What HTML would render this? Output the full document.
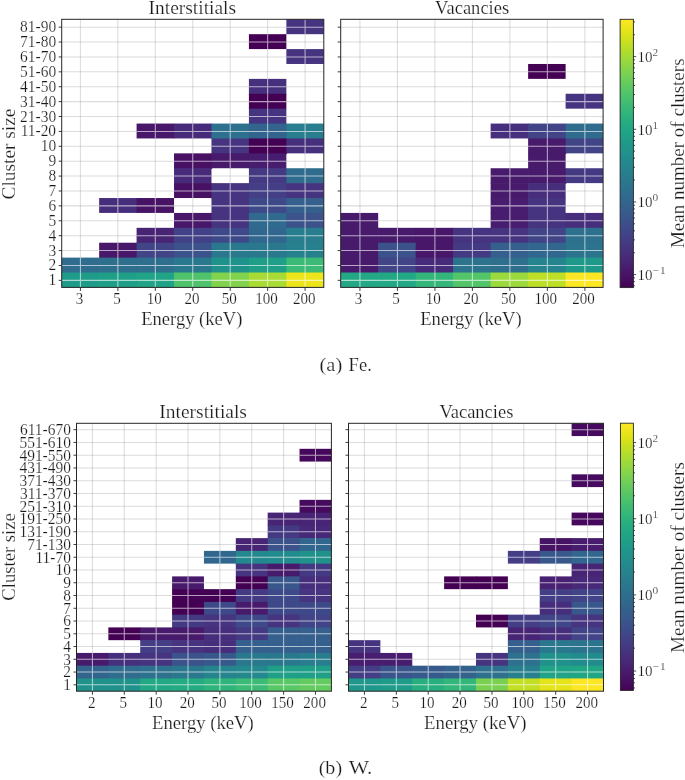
<!DOCTYPE html>
<html><head><meta charset="utf-8"><style>
html,body{margin:0;padding:0;background:#fff;overflow:hidden;}
svg{display:block;will-change:transform;}
</style></head><body>
<svg width="685" height="780" viewBox="0 0 685 780">
<rect width="685" height="780" fill="#fff"/>
<line x1="80.42" y1="19.3" x2="80.42" y2="287.4" stroke="rgba(150,150,150,0.33)" stroke-width="1.05"/>
<line x1="117.86" y1="19.3" x2="117.86" y2="287.4" stroke="rgba(150,150,150,0.33)" stroke-width="1.05"/>
<line x1="155.31" y1="19.3" x2="155.31" y2="287.4" stroke="rgba(150,150,150,0.33)" stroke-width="1.05"/>
<line x1="192.75" y1="19.3" x2="192.75" y2="287.4" stroke="rgba(150,150,150,0.33)" stroke-width="1.05"/>
<line x1="230.19" y1="19.3" x2="230.19" y2="287.4" stroke="rgba(150,150,150,0.33)" stroke-width="1.05"/>
<line x1="267.64" y1="19.3" x2="267.64" y2="287.4" stroke="rgba(150,150,150,0.33)" stroke-width="1.05"/>
<line x1="305.08" y1="19.3" x2="305.08" y2="287.4" stroke="rgba(150,150,150,0.33)" stroke-width="1.05"/>
<line x1="61.7" y1="27.15" x2="323.8" y2="27.15" stroke="rgba(150,150,150,0.33)" stroke-width="1.05"/>
<line x1="61.7" y1="42.04" x2="323.8" y2="42.04" stroke="rgba(150,150,150,0.33)" stroke-width="1.05"/>
<line x1="61.7" y1="56.94" x2="323.8" y2="56.94" stroke="rgba(150,150,150,0.33)" stroke-width="1.05"/>
<line x1="61.7" y1="71.83" x2="323.8" y2="71.83" stroke="rgba(150,150,150,0.33)" stroke-width="1.05"/>
<line x1="61.7" y1="86.72" x2="323.8" y2="86.72" stroke="rgba(150,150,150,0.33)" stroke-width="1.05"/>
<line x1="61.7" y1="101.62" x2="323.8" y2="101.62" stroke="rgba(150,150,150,0.33)" stroke-width="1.05"/>
<line x1="61.7" y1="116.51" x2="323.8" y2="116.51" stroke="rgba(150,150,150,0.33)" stroke-width="1.05"/>
<line x1="61.7" y1="131.41" x2="323.8" y2="131.41" stroke="rgba(150,150,150,0.33)" stroke-width="1.05"/>
<line x1="61.7" y1="146.30" x2="323.8" y2="146.30" stroke="rgba(150,150,150,0.33)" stroke-width="1.05"/>
<line x1="61.7" y1="161.20" x2="323.8" y2="161.20" stroke="rgba(150,150,150,0.33)" stroke-width="1.05"/>
<line x1="61.7" y1="176.09" x2="323.8" y2="176.09" stroke="rgba(150,150,150,0.33)" stroke-width="1.05"/>
<line x1="61.7" y1="190.99" x2="323.8" y2="190.99" stroke="rgba(150,150,150,0.33)" stroke-width="1.05"/>
<line x1="61.7" y1="205.88" x2="323.8" y2="205.88" stroke="rgba(150,150,150,0.33)" stroke-width="1.05"/>
<line x1="61.7" y1="220.77" x2="323.8" y2="220.77" stroke="rgba(150,150,150,0.33)" stroke-width="1.05"/>
<line x1="61.7" y1="235.67" x2="323.8" y2="235.67" stroke="rgba(150,150,150,0.33)" stroke-width="1.05"/>
<line x1="61.7" y1="250.56" x2="323.8" y2="250.56" stroke="rgba(150,150,150,0.33)" stroke-width="1.05"/>
<line x1="61.7" y1="265.46" x2="323.8" y2="265.46" stroke="rgba(150,150,150,0.33)" stroke-width="1.05"/>
<line x1="61.7" y1="280.35" x2="323.8" y2="280.35" stroke="rgba(150,150,150,0.33)" stroke-width="1.05"/>
<rect x="286.36" y="19.30" width="37.44" height="14.89" fill="#463480"/>
<rect x="248.91" y="34.19" width="37.44" height="14.89" fill="#440154"/>
<rect x="286.36" y="49.09" width="37.44" height="14.89" fill="#463480"/>
<rect x="248.91" y="78.88" width="37.44" height="15.59" fill="#46307e"/>
<rect x="248.91" y="93.77" width="37.44" height="15.59" fill="#440154"/>
<rect x="248.91" y="108.67" width="37.44" height="15.59" fill="#463480"/>
<rect x="136.59" y="123.56" width="38.14" height="14.89" fill="#481769"/>
<rect x="174.03" y="123.56" width="38.14" height="14.89" fill="#472a7a"/>
<rect x="211.47" y="123.56" width="38.14" height="15.59" fill="#2d718e"/>
<rect x="248.91" y="123.56" width="38.14" height="15.59" fill="#32648e"/>
<rect x="286.36" y="123.56" width="37.44" height="15.59" fill="#287d8e"/>
<rect x="211.47" y="138.46" width="38.14" height="15.59" fill="#463480"/>
<rect x="248.91" y="138.46" width="38.14" height="15.59" fill="#440154"/>
<rect x="286.36" y="138.46" width="37.44" height="14.89" fill="#46307e"/>
<rect x="174.03" y="153.35" width="38.14" height="15.59" fill="#471063"/>
<rect x="211.47" y="153.35" width="38.14" height="14.89" fill="#481a6c"/>
<rect x="248.91" y="153.35" width="37.44" height="15.59" fill="#481d6f"/>
<rect x="174.03" y="168.24" width="37.44" height="15.59" fill="#472a7a"/>
<rect x="248.91" y="168.24" width="38.14" height="15.59" fill="#443a83"/>
<rect x="286.36" y="168.24" width="37.44" height="15.59" fill="#2f6c8e"/>
<rect x="174.03" y="183.14" width="38.14" height="14.89" fill="#471063"/>
<rect x="211.47" y="183.14" width="38.14" height="15.59" fill="#463480"/>
<rect x="248.91" y="183.14" width="38.14" height="15.59" fill="#433e85"/>
<rect x="286.36" y="183.14" width="37.44" height="15.59" fill="#463480"/>
<rect x="99.14" y="198.03" width="38.14" height="14.89" fill="#472e7c"/>
<rect x="136.59" y="198.03" width="37.44" height="14.89" fill="#471365"/>
<rect x="211.47" y="198.03" width="38.14" height="15.59" fill="#463480"/>
<rect x="248.91" y="198.03" width="38.14" height="15.59" fill="#3e4989"/>
<rect x="286.36" y="198.03" width="37.44" height="15.59" fill="#355f8d"/>
<rect x="174.03" y="212.93" width="38.14" height="15.59" fill="#481769"/>
<rect x="211.47" y="212.93" width="38.14" height="15.59" fill="#463480"/>
<rect x="248.91" y="212.93" width="38.14" height="15.59" fill="#306a8e"/>
<rect x="286.36" y="212.93" width="37.44" height="15.59" fill="#3b528b"/>
<rect x="136.59" y="227.82" width="38.14" height="15.59" fill="#482475"/>
<rect x="174.03" y="227.82" width="38.14" height="15.59" fill="#424086"/>
<rect x="211.47" y="227.82" width="38.14" height="15.59" fill="#3e4989"/>
<rect x="248.91" y="227.82" width="38.14" height="15.59" fill="#31678e"/>
<rect x="286.36" y="227.82" width="37.44" height="15.59" fill="#287d8e"/>
<rect x="99.14" y="242.72" width="38.14" height="15.59" fill="#481769"/>
<rect x="136.59" y="242.72" width="38.14" height="15.59" fill="#414487"/>
<rect x="174.03" y="242.72" width="38.14" height="15.59" fill="#3b528b"/>
<rect x="211.47" y="242.72" width="38.14" height="15.59" fill="#2a788e"/>
<rect x="248.91" y="242.72" width="38.14" height="15.59" fill="#2a788e"/>
<rect x="286.36" y="242.72" width="37.44" height="15.59" fill="#27808e"/>
<rect x="61.70" y="257.61" width="38.14" height="15.59" fill="#2f6c8e"/>
<rect x="99.14" y="257.61" width="38.14" height="15.59" fill="#2e6f8e"/>
<rect x="136.59" y="257.61" width="38.14" height="15.59" fill="#2e6f8e"/>
<rect x="174.03" y="257.61" width="38.14" height="15.59" fill="#2a788e"/>
<rect x="211.47" y="257.61" width="38.14" height="15.59" fill="#20928c"/>
<rect x="248.91" y="257.61" width="38.14" height="15.59" fill="#1f9f88"/>
<rect x="286.36" y="257.61" width="37.44" height="15.59" fill="#3bbb75"/>
<rect x="61.70" y="272.51" width="38.14" height="14.89" fill="#1e9c89"/>
<rect x="99.14" y="272.51" width="38.14" height="14.89" fill="#1f9f88"/>
<rect x="136.59" y="272.51" width="38.14" height="14.89" fill="#20a386"/>
<rect x="174.03" y="272.51" width="38.14" height="14.89" fill="#4ec36b"/>
<rect x="211.47" y="272.51" width="38.14" height="14.89" fill="#81d34d"/>
<rect x="248.91" y="272.51" width="38.14" height="14.89" fill="#a8db34"/>
<rect x="286.36" y="272.51" width="37.44" height="14.89" fill="#ece51b"/>
<path d="M305.08 19.30V34.19M286.36 27.15H323.80" stroke="rgba(255,255,255,0.62)" stroke-width="1.05" fill="none"/>
<path d="M267.64 34.19V49.09M248.91 42.04H286.36" stroke="rgba(255,255,255,0.62)" stroke-width="1.05" fill="none"/>
<path d="M305.08 49.09V63.98M286.36 56.94H323.80" stroke="rgba(255,255,255,0.62)" stroke-width="1.05" fill="none"/>
<path d="M267.64 78.88V93.77M248.91 86.72H286.36" stroke="rgba(255,255,255,0.62)" stroke-width="1.05" fill="none"/>
<path d="M267.64 93.77V108.67M248.91 101.62H286.36" stroke="rgba(255,255,255,0.62)" stroke-width="1.05" fill="none"/>
<path d="M267.64 108.67V123.56M248.91 116.51H286.36" stroke="rgba(255,255,255,0.62)" stroke-width="1.05" fill="none"/>
<path d="M155.31 123.56V138.46M136.59 131.41H174.03" stroke="rgba(255,255,255,0.62)" stroke-width="1.05" fill="none"/>
<path d="M192.75 123.56V138.46M174.03 131.41H211.47" stroke="rgba(255,255,255,0.62)" stroke-width="1.05" fill="none"/>
<path d="M230.19 123.56V138.46M211.47 131.41H248.91" stroke="rgba(255,255,255,0.62)" stroke-width="1.05" fill="none"/>
<path d="M267.64 123.56V138.46M248.91 131.41H286.36" stroke="rgba(255,255,255,0.62)" stroke-width="1.05" fill="none"/>
<path d="M305.08 123.56V138.46M286.36 131.41H323.80" stroke="rgba(255,255,255,0.62)" stroke-width="1.05" fill="none"/>
<path d="M230.19 138.46V153.35M211.47 146.30H248.91" stroke="rgba(255,255,255,0.62)" stroke-width="1.05" fill="none"/>
<path d="M267.64 138.46V153.35M248.91 146.30H286.36" stroke="rgba(255,255,255,0.62)" stroke-width="1.05" fill="none"/>
<path d="M305.08 138.46V153.35M286.36 146.30H323.80" stroke="rgba(255,255,255,0.62)" stroke-width="1.05" fill="none"/>
<path d="M192.75 153.35V168.24M174.03 161.20H211.47" stroke="rgba(255,255,255,0.62)" stroke-width="1.05" fill="none"/>
<path d="M230.19 153.35V168.24M211.47 161.20H248.91" stroke="rgba(255,255,255,0.62)" stroke-width="1.05" fill="none"/>
<path d="M267.64 153.35V168.24M248.91 161.20H286.36" stroke="rgba(255,255,255,0.62)" stroke-width="1.05" fill="none"/>
<path d="M192.75 168.24V183.14M174.03 176.09H211.47" stroke="rgba(255,255,255,0.62)" stroke-width="1.05" fill="none"/>
<path d="M267.64 168.24V183.14M248.91 176.09H286.36" stroke="rgba(255,255,255,0.62)" stroke-width="1.05" fill="none"/>
<path d="M305.08 168.24V183.14M286.36 176.09H323.80" stroke="rgba(255,255,255,0.62)" stroke-width="1.05" fill="none"/>
<path d="M192.75 183.14V198.03M174.03 190.99H211.47" stroke="rgba(255,255,255,0.62)" stroke-width="1.05" fill="none"/>
<path d="M230.19 183.14V198.03M211.47 190.99H248.91" stroke="rgba(255,255,255,0.62)" stroke-width="1.05" fill="none"/>
<path d="M267.64 183.14V198.03M248.91 190.99H286.36" stroke="rgba(255,255,255,0.62)" stroke-width="1.05" fill="none"/>
<path d="M305.08 183.14V198.03M286.36 190.99H323.80" stroke="rgba(255,255,255,0.62)" stroke-width="1.05" fill="none"/>
<path d="M117.86 198.03V212.93M99.14 205.88H136.59" stroke="rgba(255,255,255,0.62)" stroke-width="1.05" fill="none"/>
<path d="M155.31 198.03V212.93M136.59 205.88H174.03" stroke="rgba(255,255,255,0.62)" stroke-width="1.05" fill="none"/>
<path d="M230.19 198.03V212.93M211.47 205.88H248.91" stroke="rgba(255,255,255,0.62)" stroke-width="1.05" fill="none"/>
<path d="M267.64 198.03V212.93M248.91 205.88H286.36" stroke="rgba(255,255,255,0.62)" stroke-width="1.05" fill="none"/>
<path d="M305.08 198.03V212.93M286.36 205.88H323.80" stroke="rgba(255,255,255,0.62)" stroke-width="1.05" fill="none"/>
<path d="M192.75 212.93V227.82M174.03 220.77H211.47" stroke="rgba(255,255,255,0.62)" stroke-width="1.05" fill="none"/>
<path d="M230.19 212.93V227.82M211.47 220.77H248.91" stroke="rgba(255,255,255,0.62)" stroke-width="1.05" fill="none"/>
<path d="M267.64 212.93V227.82M248.91 220.77H286.36" stroke="rgba(255,255,255,0.62)" stroke-width="1.05" fill="none"/>
<path d="M305.08 212.93V227.82M286.36 220.77H323.80" stroke="rgba(255,255,255,0.62)" stroke-width="1.05" fill="none"/>
<path d="M155.31 227.82V242.72M136.59 235.67H174.03" stroke="rgba(255,255,255,0.62)" stroke-width="1.05" fill="none"/>
<path d="M192.75 227.82V242.72M174.03 235.67H211.47" stroke="rgba(255,255,255,0.62)" stroke-width="1.05" fill="none"/>
<path d="M230.19 227.82V242.72M211.47 235.67H248.91" stroke="rgba(255,255,255,0.62)" stroke-width="1.05" fill="none"/>
<path d="M267.64 227.82V242.72M248.91 235.67H286.36" stroke="rgba(255,255,255,0.62)" stroke-width="1.05" fill="none"/>
<path d="M305.08 227.82V242.72M286.36 235.67H323.80" stroke="rgba(255,255,255,0.62)" stroke-width="1.05" fill="none"/>
<path d="M117.86 242.72V257.61M99.14 250.56H136.59" stroke="rgba(255,255,255,0.62)" stroke-width="1.05" fill="none"/>
<path d="M155.31 242.72V257.61M136.59 250.56H174.03" stroke="rgba(255,255,255,0.62)" stroke-width="1.05" fill="none"/>
<path d="M192.75 242.72V257.61M174.03 250.56H211.47" stroke="rgba(255,255,255,0.62)" stroke-width="1.05" fill="none"/>
<path d="M230.19 242.72V257.61M211.47 250.56H248.91" stroke="rgba(255,255,255,0.62)" stroke-width="1.05" fill="none"/>
<path d="M267.64 242.72V257.61M248.91 250.56H286.36" stroke="rgba(255,255,255,0.62)" stroke-width="1.05" fill="none"/>
<path d="M305.08 242.72V257.61M286.36 250.56H323.80" stroke="rgba(255,255,255,0.62)" stroke-width="1.05" fill="none"/>
<path d="M80.42 257.61V272.51M61.70 265.46H99.14" stroke="rgba(255,255,255,0.62)" stroke-width="1.05" fill="none"/>
<path d="M117.86 257.61V272.51M99.14 265.46H136.59" stroke="rgba(255,255,255,0.62)" stroke-width="1.05" fill="none"/>
<path d="M155.31 257.61V272.51M136.59 265.46H174.03" stroke="rgba(255,255,255,0.62)" stroke-width="1.05" fill="none"/>
<path d="M192.75 257.61V272.51M174.03 265.46H211.47" stroke="rgba(255,255,255,0.62)" stroke-width="1.05" fill="none"/>
<path d="M230.19 257.61V272.51M211.47 265.46H248.91" stroke="rgba(255,255,255,0.62)" stroke-width="1.05" fill="none"/>
<path d="M267.64 257.61V272.51M248.91 265.46H286.36" stroke="rgba(255,255,255,0.62)" stroke-width="1.05" fill="none"/>
<path d="M305.08 257.61V272.51M286.36 265.46H323.80" stroke="rgba(255,255,255,0.62)" stroke-width="1.05" fill="none"/>
<path d="M80.42 272.51V287.40M61.70 280.35H99.14" stroke="rgba(255,255,255,0.62)" stroke-width="1.05" fill="none"/>
<path d="M117.86 272.51V287.40M99.14 280.35H136.59" stroke="rgba(255,255,255,0.62)" stroke-width="1.05" fill="none"/>
<path d="M155.31 272.51V287.40M136.59 280.35H174.03" stroke="rgba(255,255,255,0.62)" stroke-width="1.05" fill="none"/>
<path d="M192.75 272.51V287.40M174.03 280.35H211.47" stroke="rgba(255,255,255,0.62)" stroke-width="1.05" fill="none"/>
<path d="M230.19 272.51V287.40M211.47 280.35H248.91" stroke="rgba(255,255,255,0.62)" stroke-width="1.05" fill="none"/>
<path d="M267.64 272.51V287.40M248.91 280.35H286.36" stroke="rgba(255,255,255,0.62)" stroke-width="1.05" fill="none"/>
<path d="M305.08 272.51V287.40M286.36 280.35H323.80" stroke="rgba(255,255,255,0.62)" stroke-width="1.05" fill="none"/>
<rect x="61.7" y="19.3" width="262.10" height="268.10" fill="none" stroke="#262626" stroke-width="1"/>
<line x1="58.7" y1="27.15" x2="61.7" y2="27.15" stroke="#262626" stroke-width="0.9"/>
<line x1="58.7" y1="42.04" x2="61.7" y2="42.04" stroke="#262626" stroke-width="0.9"/>
<line x1="58.7" y1="56.94" x2="61.7" y2="56.94" stroke="#262626" stroke-width="0.9"/>
<line x1="58.7" y1="71.83" x2="61.7" y2="71.83" stroke="#262626" stroke-width="0.9"/>
<line x1="58.7" y1="86.72" x2="61.7" y2="86.72" stroke="#262626" stroke-width="0.9"/>
<line x1="58.7" y1="101.62" x2="61.7" y2="101.62" stroke="#262626" stroke-width="0.9"/>
<line x1="58.7" y1="116.51" x2="61.7" y2="116.51" stroke="#262626" stroke-width="0.9"/>
<line x1="58.7" y1="131.41" x2="61.7" y2="131.41" stroke="#262626" stroke-width="0.9"/>
<line x1="58.7" y1="146.30" x2="61.7" y2="146.30" stroke="#262626" stroke-width="0.9"/>
<line x1="58.7" y1="161.20" x2="61.7" y2="161.20" stroke="#262626" stroke-width="0.9"/>
<line x1="58.7" y1="176.09" x2="61.7" y2="176.09" stroke="#262626" stroke-width="0.9"/>
<line x1="58.7" y1="190.99" x2="61.7" y2="190.99" stroke="#262626" stroke-width="0.9"/>
<line x1="58.7" y1="205.88" x2="61.7" y2="205.88" stroke="#262626" stroke-width="0.9"/>
<line x1="58.7" y1="220.77" x2="61.7" y2="220.77" stroke="#262626" stroke-width="0.9"/>
<line x1="58.7" y1="235.67" x2="61.7" y2="235.67" stroke="#262626" stroke-width="0.9"/>
<line x1="58.7" y1="250.56" x2="61.7" y2="250.56" stroke="#262626" stroke-width="0.9"/>
<line x1="58.7" y1="265.46" x2="61.7" y2="265.46" stroke="#262626" stroke-width="0.9"/>
<line x1="58.7" y1="280.35" x2="61.7" y2="280.35" stroke="#262626" stroke-width="0.9"/>
<line x1="80.42" y1="287.4" x2="80.42" y2="290.9" stroke="#262626" stroke-width="0.9"/>
<line x1="117.86" y1="287.4" x2="117.86" y2="290.9" stroke="#262626" stroke-width="0.9"/>
<line x1="155.31" y1="287.4" x2="155.31" y2="290.9" stroke="#262626" stroke-width="0.9"/>
<line x1="192.75" y1="287.4" x2="192.75" y2="290.9" stroke="#262626" stroke-width="0.9"/>
<line x1="230.19" y1="287.4" x2="230.19" y2="290.9" stroke="#262626" stroke-width="0.9"/>
<line x1="267.64" y1="287.4" x2="267.64" y2="290.9" stroke="#262626" stroke-width="0.9"/>
<line x1="305.08" y1="287.4" x2="305.08" y2="290.9" stroke="#262626" stroke-width="0.9"/>
<text x="56.10" y="32.15" text-anchor="end" font-family="Liberation Serif" font-size="16" fill="#1a1a1a" stroke="#fff" stroke-width="0.2" textLength="36.02" lengthAdjust="spacingAndGlyphs">81-90</text>
<text x="56.10" y="47.04" text-anchor="end" font-family="Liberation Serif" font-size="16" fill="#1a1a1a" stroke="#fff" stroke-width="0.2" textLength="36.02" lengthAdjust="spacingAndGlyphs">71-80</text>
<text x="56.10" y="61.94" text-anchor="end" font-family="Liberation Serif" font-size="16" fill="#1a1a1a" stroke="#fff" stroke-width="0.2" textLength="36.02" lengthAdjust="spacingAndGlyphs">61-70</text>
<text x="56.10" y="76.83" text-anchor="end" font-family="Liberation Serif" font-size="16" fill="#1a1a1a" stroke="#fff" stroke-width="0.2" textLength="36.02" lengthAdjust="spacingAndGlyphs">51-60</text>
<text x="56.10" y="91.72" text-anchor="end" font-family="Liberation Serif" font-size="16" fill="#1a1a1a" stroke="#fff" stroke-width="0.2" textLength="36.02" lengthAdjust="spacingAndGlyphs">41-50</text>
<text x="56.10" y="106.62" text-anchor="end" font-family="Liberation Serif" font-size="16" fill="#1a1a1a" stroke="#fff" stroke-width="0.2" textLength="36.02" lengthAdjust="spacingAndGlyphs">31-40</text>
<text x="56.10" y="121.51" text-anchor="end" font-family="Liberation Serif" font-size="16" fill="#1a1a1a" stroke="#fff" stroke-width="0.2" textLength="36.02" lengthAdjust="spacingAndGlyphs">21-30</text>
<text x="56.10" y="136.41" text-anchor="end" font-family="Liberation Serif" font-size="16" fill="#1a1a1a" stroke="#fff" stroke-width="0.2" textLength="35.45" lengthAdjust="spacingAndGlyphs">11-20</text>
<text x="56.10" y="151.30" text-anchor="end" font-family="Liberation Serif" font-size="16" fill="#1a1a1a" stroke="#fff" stroke-width="0.2" textLength="15.44" lengthAdjust="spacingAndGlyphs">10</text>
<text x="56.10" y="166.20" text-anchor="end" font-family="Liberation Serif" font-size="16" fill="#1a1a1a" stroke="#fff" stroke-width="0.2" textLength="7.72" lengthAdjust="spacingAndGlyphs">9</text>
<text x="56.10" y="181.09" text-anchor="end" font-family="Liberation Serif" font-size="16" fill="#1a1a1a" stroke="#fff" stroke-width="0.2" textLength="7.72" lengthAdjust="spacingAndGlyphs">8</text>
<text x="56.10" y="195.99" text-anchor="end" font-family="Liberation Serif" font-size="16" fill="#1a1a1a" stroke="#fff" stroke-width="0.2" textLength="7.72" lengthAdjust="spacingAndGlyphs">7</text>
<text x="56.10" y="210.88" text-anchor="end" font-family="Liberation Serif" font-size="16" fill="#1a1a1a" stroke="#fff" stroke-width="0.2" textLength="7.72" lengthAdjust="spacingAndGlyphs">6</text>
<text x="56.10" y="225.77" text-anchor="end" font-family="Liberation Serif" font-size="16" fill="#1a1a1a" stroke="#fff" stroke-width="0.2" textLength="7.72" lengthAdjust="spacingAndGlyphs">5</text>
<text x="56.10" y="240.67" text-anchor="end" font-family="Liberation Serif" font-size="16" fill="#1a1a1a" stroke="#fff" stroke-width="0.2" textLength="7.72" lengthAdjust="spacingAndGlyphs">4</text>
<text x="56.10" y="255.56" text-anchor="end" font-family="Liberation Serif" font-size="16" fill="#1a1a1a" stroke="#fff" stroke-width="0.2" textLength="7.72" lengthAdjust="spacingAndGlyphs">3</text>
<text x="56.10" y="270.46" text-anchor="end" font-family="Liberation Serif" font-size="16" fill="#1a1a1a" stroke="#fff" stroke-width="0.2" textLength="7.72" lengthAdjust="spacingAndGlyphs">2</text>
<text x="56.10" y="285.35" text-anchor="end" font-family="Liberation Serif" font-size="16" fill="#1a1a1a" stroke="#fff" stroke-width="0.2" textLength="7.72" lengthAdjust="spacingAndGlyphs">1</text>
<text x="75.82" y="304.30" font-family="Liberation Serif" font-size="16" fill="#1a1a1a" stroke="#fff" stroke-width="0.2" textLength="7.52" lengthAdjust="spacingAndGlyphs">3</text>
<text x="113.15" y="304.30" font-family="Liberation Serif" font-size="16" fill="#1a1a1a" stroke="#fff" stroke-width="0.2" textLength="7.52" lengthAdjust="spacingAndGlyphs">5</text>
<text x="146.65" y="304.30" font-family="Liberation Serif" font-size="16" fill="#1a1a1a" stroke="#fff" stroke-width="0.2" textLength="15.04" lengthAdjust="spacingAndGlyphs">10</text>
<text x="184.39" y="304.30" font-family="Liberation Serif" font-size="16" fill="#1a1a1a" stroke="#fff" stroke-width="0.2" textLength="15.04" lengthAdjust="spacingAndGlyphs">20</text>
<text x="221.72" y="304.30" font-family="Liberation Serif" font-size="16" fill="#1a1a1a" stroke="#fff" stroke-width="0.2" textLength="15.04" lengthAdjust="spacingAndGlyphs">50</text>
<text x="255.22" y="304.30" font-family="Liberation Serif" font-size="16" fill="#1a1a1a" stroke="#fff" stroke-width="0.2" textLength="22.56" lengthAdjust="spacingAndGlyphs">100</text>
<text x="292.96" y="304.30" font-family="Liberation Serif" font-size="16" fill="#1a1a1a" stroke="#fff" stroke-width="0.2" textLength="22.56" lengthAdjust="spacingAndGlyphs">200</text>
<line x1="359.94" y1="19.3" x2="359.94" y2="287.4" stroke="rgba(150,150,150,0.33)" stroke-width="1.05"/>
<line x1="397.43" y1="19.3" x2="397.43" y2="287.4" stroke="rgba(150,150,150,0.33)" stroke-width="1.05"/>
<line x1="434.91" y1="19.3" x2="434.91" y2="287.4" stroke="rgba(150,150,150,0.33)" stroke-width="1.05"/>
<line x1="472.40" y1="19.3" x2="472.40" y2="287.4" stroke="rgba(150,150,150,0.33)" stroke-width="1.05"/>
<line x1="509.89" y1="19.3" x2="509.89" y2="287.4" stroke="rgba(150,150,150,0.33)" stroke-width="1.05"/>
<line x1="547.37" y1="19.3" x2="547.37" y2="287.4" stroke="rgba(150,150,150,0.33)" stroke-width="1.05"/>
<line x1="584.86" y1="19.3" x2="584.86" y2="287.4" stroke="rgba(150,150,150,0.33)" stroke-width="1.05"/>
<line x1="340.7" y1="27.15" x2="603.1" y2="27.15" stroke="rgba(150,150,150,0.33)" stroke-width="1.05"/>
<line x1="340.7" y1="42.04" x2="603.1" y2="42.04" stroke="rgba(150,150,150,0.33)" stroke-width="1.05"/>
<line x1="340.7" y1="56.94" x2="603.1" y2="56.94" stroke="rgba(150,150,150,0.33)" stroke-width="1.05"/>
<line x1="340.7" y1="71.83" x2="603.1" y2="71.83" stroke="rgba(150,150,150,0.33)" stroke-width="1.05"/>
<line x1="340.7" y1="86.72" x2="603.1" y2="86.72" stroke="rgba(150,150,150,0.33)" stroke-width="1.05"/>
<line x1="340.7" y1="101.62" x2="603.1" y2="101.62" stroke="rgba(150,150,150,0.33)" stroke-width="1.05"/>
<line x1="340.7" y1="116.51" x2="603.1" y2="116.51" stroke="rgba(150,150,150,0.33)" stroke-width="1.05"/>
<line x1="340.7" y1="131.41" x2="603.1" y2="131.41" stroke="rgba(150,150,150,0.33)" stroke-width="1.05"/>
<line x1="340.7" y1="146.30" x2="603.1" y2="146.30" stroke="rgba(150,150,150,0.33)" stroke-width="1.05"/>
<line x1="340.7" y1="161.20" x2="603.1" y2="161.20" stroke="rgba(150,150,150,0.33)" stroke-width="1.05"/>
<line x1="340.7" y1="176.09" x2="603.1" y2="176.09" stroke="rgba(150,150,150,0.33)" stroke-width="1.05"/>
<line x1="340.7" y1="190.99" x2="603.1" y2="190.99" stroke="rgba(150,150,150,0.33)" stroke-width="1.05"/>
<line x1="340.7" y1="205.88" x2="603.1" y2="205.88" stroke="rgba(150,150,150,0.33)" stroke-width="1.05"/>
<line x1="340.7" y1="220.77" x2="603.1" y2="220.77" stroke="rgba(150,150,150,0.33)" stroke-width="1.05"/>
<line x1="340.7" y1="235.67" x2="603.1" y2="235.67" stroke="rgba(150,150,150,0.33)" stroke-width="1.05"/>
<line x1="340.7" y1="250.56" x2="603.1" y2="250.56" stroke="rgba(150,150,150,0.33)" stroke-width="1.05"/>
<line x1="340.7" y1="265.46" x2="603.1" y2="265.46" stroke="rgba(150,150,150,0.33)" stroke-width="1.05"/>
<line x1="340.7" y1="280.35" x2="603.1" y2="280.35" stroke="rgba(150,150,150,0.33)" stroke-width="1.05"/>
<rect x="528.13" y="63.98" width="37.49" height="14.89" fill="#440154"/>
<rect x="565.61" y="93.77" width="37.49" height="14.89" fill="#463480"/>
<rect x="490.64" y="123.56" width="38.19" height="14.89" fill="#46307e"/>
<rect x="528.13" y="123.56" width="38.19" height="15.59" fill="#414487"/>
<rect x="565.61" y="123.56" width="37.49" height="15.59" fill="#2f6c8e"/>
<rect x="528.13" y="138.46" width="38.19" height="15.59" fill="#481a6c"/>
<rect x="565.61" y="138.46" width="37.49" height="14.89" fill="#414487"/>
<rect x="528.13" y="153.35" width="37.49" height="15.59" fill="#481a6c"/>
<rect x="490.64" y="168.24" width="38.19" height="15.59" fill="#481a6c"/>
<rect x="528.13" y="168.24" width="38.19" height="15.59" fill="#481a6c"/>
<rect x="565.61" y="168.24" width="37.49" height="14.89" fill="#443a83"/>
<rect x="490.64" y="183.14" width="38.19" height="15.59" fill="#481a6c"/>
<rect x="528.13" y="183.14" width="37.49" height="15.59" fill="#472e7c"/>
<rect x="490.64" y="198.03" width="38.19" height="15.59" fill="#481d6f"/>
<rect x="528.13" y="198.03" width="37.49" height="15.59" fill="#463480"/>
<rect x="340.70" y="212.93" width="37.49" height="15.59" fill="#481a6c"/>
<rect x="490.64" y="212.93" width="38.19" height="15.59" fill="#481d6f"/>
<rect x="528.13" y="212.93" width="38.19" height="15.59" fill="#463480"/>
<rect x="565.61" y="212.93" width="37.49" height="15.59" fill="#472e7c"/>
<rect x="340.70" y="227.82" width="38.19" height="15.59" fill="#481a6c"/>
<rect x="378.19" y="227.82" width="38.19" height="15.59" fill="#481a6c"/>
<rect x="415.67" y="227.82" width="38.19" height="15.59" fill="#481769"/>
<rect x="453.16" y="227.82" width="38.19" height="15.59" fill="#463480"/>
<rect x="490.64" y="227.82" width="38.19" height="15.59" fill="#463480"/>
<rect x="528.13" y="227.82" width="38.19" height="15.59" fill="#414487"/>
<rect x="565.61" y="227.82" width="37.49" height="15.59" fill="#2d718e"/>
<rect x="340.70" y="242.72" width="38.19" height="15.59" fill="#481a6c"/>
<rect x="378.19" y="242.72" width="38.19" height="15.59" fill="#3b528b"/>
<rect x="415.67" y="242.72" width="38.19" height="15.59" fill="#481769"/>
<rect x="453.16" y="242.72" width="38.19" height="15.59" fill="#443a83"/>
<rect x="490.64" y="242.72" width="38.19" height="15.59" fill="#355f8d"/>
<rect x="528.13" y="242.72" width="38.19" height="15.59" fill="#31678e"/>
<rect x="565.61" y="242.72" width="37.49" height="15.59" fill="#2c738e"/>
<rect x="340.70" y="257.61" width="38.19" height="15.59" fill="#481a6c"/>
<rect x="378.19" y="257.61" width="38.19" height="15.59" fill="#414487"/>
<rect x="415.67" y="257.61" width="38.19" height="15.59" fill="#472a7a"/>
<rect x="453.16" y="257.61" width="38.19" height="15.59" fill="#2c738e"/>
<rect x="490.64" y="257.61" width="38.19" height="15.59" fill="#2e6f8e"/>
<rect x="528.13" y="257.61" width="38.19" height="15.59" fill="#25848e"/>
<rect x="565.61" y="257.61" width="37.49" height="15.59" fill="#1f9a8a"/>
<rect x="340.70" y="272.51" width="38.19" height="14.89" fill="#22a884"/>
<rect x="378.19" y="272.51" width="38.19" height="14.89" fill="#22a884"/>
<rect x="415.67" y="272.51" width="38.19" height="14.89" fill="#32b67a"/>
<rect x="453.16" y="272.51" width="38.19" height="14.89" fill="#52c569"/>
<rect x="490.64" y="272.51" width="38.19" height="14.89" fill="#9bd93c"/>
<rect x="528.13" y="272.51" width="38.19" height="14.89" fill="#bddf26"/>
<rect x="565.61" y="272.51" width="37.49" height="14.89" fill="#fde725"/>
<path d="M547.37 63.98V78.88M528.13 71.83H565.61" stroke="rgba(255,255,255,0.62)" stroke-width="1.05" fill="none"/>
<path d="M584.86 93.77V108.67M565.61 101.62H603.10" stroke="rgba(255,255,255,0.62)" stroke-width="1.05" fill="none"/>
<path d="M509.89 123.56V138.46M490.64 131.41H528.13" stroke="rgba(255,255,255,0.62)" stroke-width="1.05" fill="none"/>
<path d="M547.37 123.56V138.46M528.13 131.41H565.61" stroke="rgba(255,255,255,0.62)" stroke-width="1.05" fill="none"/>
<path d="M584.86 123.56V138.46M565.61 131.41H603.10" stroke="rgba(255,255,255,0.62)" stroke-width="1.05" fill="none"/>
<path d="M547.37 138.46V153.35M528.13 146.30H565.61" stroke="rgba(255,255,255,0.62)" stroke-width="1.05" fill="none"/>
<path d="M584.86 138.46V153.35M565.61 146.30H603.10" stroke="rgba(255,255,255,0.62)" stroke-width="1.05" fill="none"/>
<path d="M547.37 153.35V168.24M528.13 161.20H565.61" stroke="rgba(255,255,255,0.62)" stroke-width="1.05" fill="none"/>
<path d="M509.89 168.24V183.14M490.64 176.09H528.13" stroke="rgba(255,255,255,0.62)" stroke-width="1.05" fill="none"/>
<path d="M547.37 168.24V183.14M528.13 176.09H565.61" stroke="rgba(255,255,255,0.62)" stroke-width="1.05" fill="none"/>
<path d="M584.86 168.24V183.14M565.61 176.09H603.10" stroke="rgba(255,255,255,0.62)" stroke-width="1.05" fill="none"/>
<path d="M509.89 183.14V198.03M490.64 190.99H528.13" stroke="rgba(255,255,255,0.62)" stroke-width="1.05" fill="none"/>
<path d="M547.37 183.14V198.03M528.13 190.99H565.61" stroke="rgba(255,255,255,0.62)" stroke-width="1.05" fill="none"/>
<path d="M509.89 198.03V212.93M490.64 205.88H528.13" stroke="rgba(255,255,255,0.62)" stroke-width="1.05" fill="none"/>
<path d="M547.37 198.03V212.93M528.13 205.88H565.61" stroke="rgba(255,255,255,0.62)" stroke-width="1.05" fill="none"/>
<path d="M359.94 212.93V227.82M340.70 220.77H378.19" stroke="rgba(255,255,255,0.62)" stroke-width="1.05" fill="none"/>
<path d="M509.89 212.93V227.82M490.64 220.77H528.13" stroke="rgba(255,255,255,0.62)" stroke-width="1.05" fill="none"/>
<path d="M547.37 212.93V227.82M528.13 220.77H565.61" stroke="rgba(255,255,255,0.62)" stroke-width="1.05" fill="none"/>
<path d="M584.86 212.93V227.82M565.61 220.77H603.10" stroke="rgba(255,255,255,0.62)" stroke-width="1.05" fill="none"/>
<path d="M359.94 227.82V242.72M340.70 235.67H378.19" stroke="rgba(255,255,255,0.62)" stroke-width="1.05" fill="none"/>
<path d="M397.43 227.82V242.72M378.19 235.67H415.67" stroke="rgba(255,255,255,0.62)" stroke-width="1.05" fill="none"/>
<path d="M434.91 227.82V242.72M415.67 235.67H453.16" stroke="rgba(255,255,255,0.62)" stroke-width="1.05" fill="none"/>
<path d="M472.40 227.82V242.72M453.16 235.67H490.64" stroke="rgba(255,255,255,0.62)" stroke-width="1.05" fill="none"/>
<path d="M509.89 227.82V242.72M490.64 235.67H528.13" stroke="rgba(255,255,255,0.62)" stroke-width="1.05" fill="none"/>
<path d="M547.37 227.82V242.72M528.13 235.67H565.61" stroke="rgba(255,255,255,0.62)" stroke-width="1.05" fill="none"/>
<path d="M584.86 227.82V242.72M565.61 235.67H603.10" stroke="rgba(255,255,255,0.62)" stroke-width="1.05" fill="none"/>
<path d="M359.94 242.72V257.61M340.70 250.56H378.19" stroke="rgba(255,255,255,0.62)" stroke-width="1.05" fill="none"/>
<path d="M397.43 242.72V257.61M378.19 250.56H415.67" stroke="rgba(255,255,255,0.62)" stroke-width="1.05" fill="none"/>
<path d="M434.91 242.72V257.61M415.67 250.56H453.16" stroke="rgba(255,255,255,0.62)" stroke-width="1.05" fill="none"/>
<path d="M472.40 242.72V257.61M453.16 250.56H490.64" stroke="rgba(255,255,255,0.62)" stroke-width="1.05" fill="none"/>
<path d="M509.89 242.72V257.61M490.64 250.56H528.13" stroke="rgba(255,255,255,0.62)" stroke-width="1.05" fill="none"/>
<path d="M547.37 242.72V257.61M528.13 250.56H565.61" stroke="rgba(255,255,255,0.62)" stroke-width="1.05" fill="none"/>
<path d="M584.86 242.72V257.61M565.61 250.56H603.10" stroke="rgba(255,255,255,0.62)" stroke-width="1.05" fill="none"/>
<path d="M359.94 257.61V272.51M340.70 265.46H378.19" stroke="rgba(255,255,255,0.62)" stroke-width="1.05" fill="none"/>
<path d="M397.43 257.61V272.51M378.19 265.46H415.67" stroke="rgba(255,255,255,0.62)" stroke-width="1.05" fill="none"/>
<path d="M434.91 257.61V272.51M415.67 265.46H453.16" stroke="rgba(255,255,255,0.62)" stroke-width="1.05" fill="none"/>
<path d="M472.40 257.61V272.51M453.16 265.46H490.64" stroke="rgba(255,255,255,0.62)" stroke-width="1.05" fill="none"/>
<path d="M509.89 257.61V272.51M490.64 265.46H528.13" stroke="rgba(255,255,255,0.62)" stroke-width="1.05" fill="none"/>
<path d="M547.37 257.61V272.51M528.13 265.46H565.61" stroke="rgba(255,255,255,0.62)" stroke-width="1.05" fill="none"/>
<path d="M584.86 257.61V272.51M565.61 265.46H603.10" stroke="rgba(255,255,255,0.62)" stroke-width="1.05" fill="none"/>
<path d="M359.94 272.51V287.40M340.70 280.35H378.19" stroke="rgba(255,255,255,0.62)" stroke-width="1.05" fill="none"/>
<path d="M397.43 272.51V287.40M378.19 280.35H415.67" stroke="rgba(255,255,255,0.62)" stroke-width="1.05" fill="none"/>
<path d="M434.91 272.51V287.40M415.67 280.35H453.16" stroke="rgba(255,255,255,0.62)" stroke-width="1.05" fill="none"/>
<path d="M472.40 272.51V287.40M453.16 280.35H490.64" stroke="rgba(255,255,255,0.62)" stroke-width="1.05" fill="none"/>
<path d="M509.89 272.51V287.40M490.64 280.35H528.13" stroke="rgba(255,255,255,0.62)" stroke-width="1.05" fill="none"/>
<path d="M547.37 272.51V287.40M528.13 280.35H565.61" stroke="rgba(255,255,255,0.62)" stroke-width="1.05" fill="none"/>
<path d="M584.86 272.51V287.40M565.61 280.35H603.10" stroke="rgba(255,255,255,0.62)" stroke-width="1.05" fill="none"/>
<rect x="340.7" y="19.3" width="262.40" height="268.10" fill="none" stroke="#262626" stroke-width="1"/>
<line x1="337.7" y1="27.15" x2="340.7" y2="27.15" stroke="#262626" stroke-width="0.9"/>
<line x1="337.7" y1="42.04" x2="340.7" y2="42.04" stroke="#262626" stroke-width="0.9"/>
<line x1="337.7" y1="56.94" x2="340.7" y2="56.94" stroke="#262626" stroke-width="0.9"/>
<line x1="337.7" y1="71.83" x2="340.7" y2="71.83" stroke="#262626" stroke-width="0.9"/>
<line x1="337.7" y1="86.72" x2="340.7" y2="86.72" stroke="#262626" stroke-width="0.9"/>
<line x1="337.7" y1="101.62" x2="340.7" y2="101.62" stroke="#262626" stroke-width="0.9"/>
<line x1="337.7" y1="116.51" x2="340.7" y2="116.51" stroke="#262626" stroke-width="0.9"/>
<line x1="337.7" y1="131.41" x2="340.7" y2="131.41" stroke="#262626" stroke-width="0.9"/>
<line x1="337.7" y1="146.30" x2="340.7" y2="146.30" stroke="#262626" stroke-width="0.9"/>
<line x1="337.7" y1="161.20" x2="340.7" y2="161.20" stroke="#262626" stroke-width="0.9"/>
<line x1="337.7" y1="176.09" x2="340.7" y2="176.09" stroke="#262626" stroke-width="0.9"/>
<line x1="337.7" y1="190.99" x2="340.7" y2="190.99" stroke="#262626" stroke-width="0.9"/>
<line x1="337.7" y1="205.88" x2="340.7" y2="205.88" stroke="#262626" stroke-width="0.9"/>
<line x1="337.7" y1="220.77" x2="340.7" y2="220.77" stroke="#262626" stroke-width="0.9"/>
<line x1="337.7" y1="235.67" x2="340.7" y2="235.67" stroke="#262626" stroke-width="0.9"/>
<line x1="337.7" y1="250.56" x2="340.7" y2="250.56" stroke="#262626" stroke-width="0.9"/>
<line x1="337.7" y1="265.46" x2="340.7" y2="265.46" stroke="#262626" stroke-width="0.9"/>
<line x1="337.7" y1="280.35" x2="340.7" y2="280.35" stroke="#262626" stroke-width="0.9"/>
<line x1="359.94" y1="287.4" x2="359.94" y2="290.9" stroke="#262626" stroke-width="0.9"/>
<line x1="397.43" y1="287.4" x2="397.43" y2="290.9" stroke="#262626" stroke-width="0.9"/>
<line x1="434.91" y1="287.4" x2="434.91" y2="290.9" stroke="#262626" stroke-width="0.9"/>
<line x1="472.40" y1="287.4" x2="472.40" y2="290.9" stroke="#262626" stroke-width="0.9"/>
<line x1="509.89" y1="287.4" x2="509.89" y2="290.9" stroke="#262626" stroke-width="0.9"/>
<line x1="547.37" y1="287.4" x2="547.37" y2="290.9" stroke="#262626" stroke-width="0.9"/>
<line x1="584.86" y1="287.4" x2="584.86" y2="290.9" stroke="#262626" stroke-width="0.9"/>
<text x="354.85" y="304.30" font-family="Liberation Serif" font-size="16" fill="#1a1a1a" stroke="#fff" stroke-width="0.2" textLength="7.52" lengthAdjust="spacingAndGlyphs">3</text>
<text x="392.22" y="304.30" font-family="Liberation Serif" font-size="16" fill="#1a1a1a" stroke="#fff" stroke-width="0.2" textLength="7.52" lengthAdjust="spacingAndGlyphs">5</text>
<text x="425.76" y="304.30" font-family="Liberation Serif" font-size="16" fill="#1a1a1a" stroke="#fff" stroke-width="0.2" textLength="15.04" lengthAdjust="spacingAndGlyphs">10</text>
<text x="463.54" y="304.30" font-family="Liberation Serif" font-size="16" fill="#1a1a1a" stroke="#fff" stroke-width="0.2" textLength="15.04" lengthAdjust="spacingAndGlyphs">20</text>
<text x="500.92" y="304.30" font-family="Liberation Serif" font-size="16" fill="#1a1a1a" stroke="#fff" stroke-width="0.2" textLength="15.04" lengthAdjust="spacingAndGlyphs">50</text>
<text x="534.45" y="304.30" font-family="Liberation Serif" font-size="16" fill="#1a1a1a" stroke="#fff" stroke-width="0.2" textLength="22.56" lengthAdjust="spacingAndGlyphs">100</text>
<text x="572.24" y="304.30" font-family="Liberation Serif" font-size="16" fill="#1a1a1a" stroke="#fff" stroke-width="0.2" textLength="22.56" lengthAdjust="spacingAndGlyphs">200</text>
<defs><linearGradient id="cbfe" x1="0" y1="0" x2="0" y2="1"><stop offset="0.0000" stop-color="#fde725"/><stop offset="0.0312" stop-color="#ece51b"/><stop offset="0.0625" stop-color="#d8e219"/><stop offset="0.0938" stop-color="#c2df23"/><stop offset="0.1250" stop-color="#addc30"/><stop offset="0.1562" stop-color="#98d83e"/><stop offset="0.1875" stop-color="#84d44b"/><stop offset="0.2188" stop-color="#70cf57"/><stop offset="0.2500" stop-color="#5ec962"/><stop offset="0.2812" stop-color="#4ec36b"/><stop offset="0.3125" stop-color="#3fbc73"/><stop offset="0.3438" stop-color="#32b67a"/><stop offset="0.3750" stop-color="#28ae80"/><stop offset="0.4062" stop-color="#22a785"/><stop offset="0.4375" stop-color="#1fa088"/><stop offset="0.4688" stop-color="#1f988b"/><stop offset="0.5000" stop-color="#21918c"/><stop offset="0.5312" stop-color="#23898e"/><stop offset="0.5625" stop-color="#26828e"/><stop offset="0.5938" stop-color="#297a8e"/><stop offset="0.6250" stop-color="#2c728e"/><stop offset="0.6562" stop-color="#2f6b8e"/><stop offset="0.6875" stop-color="#33638d"/><stop offset="0.7188" stop-color="#375b8d"/><stop offset="0.7500" stop-color="#3b528b"/><stop offset="0.7812" stop-color="#3e4989"/><stop offset="0.8125" stop-color="#424086"/><stop offset="0.8438" stop-color="#453781"/><stop offset="0.8750" stop-color="#472d7b"/><stop offset="0.9062" stop-color="#482374"/><stop offset="0.9375" stop-color="#48186a"/><stop offset="0.9688" stop-color="#470d60"/><stop offset="1.0000" stop-color="#440154"/></linearGradient></defs>
<rect x="620.1" y="19.3" width="13.299999999999955" height="268.3" fill="url(#cbfe)" stroke="#262626" stroke-width="0.9"/>
<line x1="633.4" y1="285.85" x2="635.0" y2="285.85" stroke="#262626" stroke-width="0.8"/>
<line x1="633.4" y1="281.63" x2="635.0" y2="281.63" stroke="#262626" stroke-width="0.8"/>
<line x1="633.4" y1="277.92" x2="635.0" y2="277.92" stroke="#262626" stroke-width="0.8"/>
<line x1="633.4" y1="274.59" x2="636.1999999999999" y2="274.59" stroke="#262626" stroke-width="0.8"/>
<text x="637.4" y="279.89" font-family="Liberation Serif" font-size="15" fill="#1a1a1a" stroke="#fff" stroke-width="0.2">10<tspan dy="-5.9" font-size="11.3">−</tspan><tspan dx="1.3" font-size="11.3">1</tspan></text>
<line x1="633.4" y1="252.72" x2="635.0" y2="252.72" stroke="#262626" stroke-width="0.8"/>
<line x1="633.4" y1="239.92" x2="635.0" y2="239.92" stroke="#262626" stroke-width="0.8"/>
<line x1="633.4" y1="230.84" x2="635.0" y2="230.84" stroke="#262626" stroke-width="0.8"/>
<line x1="633.4" y1="223.80" x2="635.0" y2="223.80" stroke="#262626" stroke-width="0.8"/>
<line x1="633.4" y1="218.04" x2="635.0" y2="218.04" stroke="#262626" stroke-width="0.8"/>
<line x1="633.4" y1="213.18" x2="635.0" y2="213.18" stroke="#262626" stroke-width="0.8"/>
<line x1="633.4" y1="208.96" x2="635.0" y2="208.96" stroke="#262626" stroke-width="0.8"/>
<line x1="633.4" y1="205.25" x2="635.0" y2="205.25" stroke="#262626" stroke-width="0.8"/>
<line x1="633.4" y1="201.92" x2="636.1999999999999" y2="201.92" stroke="#262626" stroke-width="0.8"/>
<text x="637.4" y="207.22" font-family="Liberation Serif" font-size="15" fill="#1a1a1a" stroke="#fff" stroke-width="0.2">10<tspan dy="-5.9" font-size="11.3">0</tspan></text>
<line x1="633.4" y1="180.05" x2="635.0" y2="180.05" stroke="#262626" stroke-width="0.8"/>
<line x1="633.4" y1="167.25" x2="635.0" y2="167.25" stroke="#262626" stroke-width="0.8"/>
<line x1="633.4" y1="158.17" x2="635.0" y2="158.17" stroke="#262626" stroke-width="0.8"/>
<line x1="633.4" y1="151.13" x2="635.0" y2="151.13" stroke="#262626" stroke-width="0.8"/>
<line x1="633.4" y1="145.37" x2="635.0" y2="145.37" stroke="#262626" stroke-width="0.8"/>
<line x1="633.4" y1="140.51" x2="635.0" y2="140.51" stroke="#262626" stroke-width="0.8"/>
<line x1="633.4" y1="136.29" x2="635.0" y2="136.29" stroke="#262626" stroke-width="0.8"/>
<line x1="633.4" y1="132.58" x2="635.0" y2="132.58" stroke="#262626" stroke-width="0.8"/>
<line x1="633.4" y1="129.25" x2="636.1999999999999" y2="129.25" stroke="#262626" stroke-width="0.8"/>
<text x="637.4" y="134.55" font-family="Liberation Serif" font-size="15" fill="#1a1a1a" stroke="#fff" stroke-width="0.2">10<tspan dy="-5.9" font-size="11.3">1</tspan></text>
<line x1="633.4" y1="107.37" x2="635.0" y2="107.37" stroke="#262626" stroke-width="0.8"/>
<line x1="633.4" y1="94.58" x2="635.0" y2="94.58" stroke="#262626" stroke-width="0.8"/>
<line x1="633.4" y1="85.50" x2="635.0" y2="85.50" stroke="#262626" stroke-width="0.8"/>
<line x1="633.4" y1="78.46" x2="635.0" y2="78.46" stroke="#262626" stroke-width="0.8"/>
<line x1="633.4" y1="72.70" x2="635.0" y2="72.70" stroke="#262626" stroke-width="0.8"/>
<line x1="633.4" y1="67.84" x2="635.0" y2="67.84" stroke="#262626" stroke-width="0.8"/>
<line x1="633.4" y1="63.62" x2="635.0" y2="63.62" stroke="#262626" stroke-width="0.8"/>
<line x1="633.4" y1="59.91" x2="635.0" y2="59.91" stroke="#262626" stroke-width="0.8"/>
<line x1="633.4" y1="56.58" x2="636.1999999999999" y2="56.58" stroke="#262626" stroke-width="0.8"/>
<text x="637.4" y="61.88" font-family="Liberation Serif" font-size="15" fill="#1a1a1a" stroke="#fff" stroke-width="0.2">10<tspan dy="-5.9" font-size="11.3">2</tspan></text>
<line x1="633.4" y1="34.70" x2="635.0" y2="34.70" stroke="#262626" stroke-width="0.8"/>
<line x1="633.4" y1="21.91" x2="635.0" y2="21.91" stroke="#262626" stroke-width="0.8"/>
<line x1="92.43" y1="423.3" x2="92.43" y2="691.2" stroke="rgba(150,150,150,0.33)" stroke-width="1.05"/>
<line x1="124.29" y1="423.3" x2="124.29" y2="691.2" stroke="rgba(150,150,150,0.33)" stroke-width="1.05"/>
<line x1="156.16" y1="423.3" x2="156.16" y2="691.2" stroke="rgba(150,150,150,0.33)" stroke-width="1.05"/>
<line x1="188.02" y1="423.3" x2="188.02" y2="691.2" stroke="rgba(150,150,150,0.33)" stroke-width="1.05"/>
<line x1="219.88" y1="423.3" x2="219.88" y2="691.2" stroke="rgba(150,150,150,0.33)" stroke-width="1.05"/>
<line x1="251.74" y1="423.3" x2="251.74" y2="691.2" stroke="rgba(150,150,150,0.33)" stroke-width="1.05"/>
<line x1="283.61" y1="423.3" x2="283.61" y2="691.2" stroke="rgba(150,150,150,0.33)" stroke-width="1.05"/>
<line x1="315.47" y1="423.3" x2="315.47" y2="691.2" stroke="rgba(150,150,150,0.33)" stroke-width="1.05"/>
<line x1="76.5" y1="429.68" x2="331.4" y2="429.68" stroke="rgba(150,150,150,0.33)" stroke-width="1.05"/>
<line x1="76.5" y1="442.44" x2="331.4" y2="442.44" stroke="rgba(150,150,150,0.33)" stroke-width="1.05"/>
<line x1="76.5" y1="455.19" x2="331.4" y2="455.19" stroke="rgba(150,150,150,0.33)" stroke-width="1.05"/>
<line x1="76.5" y1="467.95" x2="331.4" y2="467.95" stroke="rgba(150,150,150,0.33)" stroke-width="1.05"/>
<line x1="76.5" y1="480.71" x2="331.4" y2="480.71" stroke="rgba(150,150,150,0.33)" stroke-width="1.05"/>
<line x1="76.5" y1="493.46" x2="331.4" y2="493.46" stroke="rgba(150,150,150,0.33)" stroke-width="1.05"/>
<line x1="76.5" y1="506.22" x2="331.4" y2="506.22" stroke="rgba(150,150,150,0.33)" stroke-width="1.05"/>
<line x1="76.5" y1="518.98" x2="331.4" y2="518.98" stroke="rgba(150,150,150,0.33)" stroke-width="1.05"/>
<line x1="76.5" y1="531.74" x2="331.4" y2="531.74" stroke="rgba(150,150,150,0.33)" stroke-width="1.05"/>
<line x1="76.5" y1="544.49" x2="331.4" y2="544.49" stroke="rgba(150,150,150,0.33)" stroke-width="1.05"/>
<line x1="76.5" y1="557.25" x2="331.4" y2="557.25" stroke="rgba(150,150,150,0.33)" stroke-width="1.05"/>
<line x1="76.5" y1="570.01" x2="331.4" y2="570.01" stroke="rgba(150,150,150,0.33)" stroke-width="1.05"/>
<line x1="76.5" y1="582.76" x2="331.4" y2="582.76" stroke="rgba(150,150,150,0.33)" stroke-width="1.05"/>
<line x1="76.5" y1="595.52" x2="331.4" y2="595.52" stroke="rgba(150,150,150,0.33)" stroke-width="1.05"/>
<line x1="76.5" y1="608.28" x2="331.4" y2="608.28" stroke="rgba(150,150,150,0.33)" stroke-width="1.05"/>
<line x1="76.5" y1="621.04" x2="331.4" y2="621.04" stroke="rgba(150,150,150,0.33)" stroke-width="1.05"/>
<line x1="76.5" y1="633.79" x2="331.4" y2="633.79" stroke="rgba(150,150,150,0.33)" stroke-width="1.05"/>
<line x1="76.5" y1="646.55" x2="331.4" y2="646.55" stroke="rgba(150,150,150,0.33)" stroke-width="1.05"/>
<line x1="76.5" y1="659.31" x2="331.4" y2="659.31" stroke="rgba(150,150,150,0.33)" stroke-width="1.05"/>
<line x1="76.5" y1="672.06" x2="331.4" y2="672.06" stroke="rgba(150,150,150,0.33)" stroke-width="1.05"/>
<line x1="76.5" y1="684.82" x2="331.4" y2="684.82" stroke="rgba(150,150,150,0.33)" stroke-width="1.05"/>
<rect x="299.54" y="448.81" width="31.86" height="12.76" fill="#46085c"/>
<rect x="299.54" y="499.84" width="31.86" height="13.46" fill="#460b5e"/>
<rect x="267.67" y="512.60" width="32.56" height="13.46" fill="#482475"/>
<rect x="299.54" y="512.60" width="31.86" height="13.46" fill="#482475"/>
<rect x="267.67" y="525.36" width="32.56" height="13.46" fill="#443a83"/>
<rect x="299.54" y="525.36" width="31.86" height="13.46" fill="#482878"/>
<rect x="235.81" y="538.11" width="32.56" height="13.46" fill="#482475"/>
<rect x="267.67" y="538.11" width="32.56" height="13.46" fill="#3b528b"/>
<rect x="299.54" y="538.11" width="31.86" height="13.46" fill="#31678e"/>
<rect x="203.95" y="550.87" width="32.56" height="12.76" fill="#31678e"/>
<rect x="235.81" y="550.87" width="32.56" height="13.46" fill="#23898e"/>
<rect x="267.67" y="550.87" width="32.56" height="13.46" fill="#228b8d"/>
<rect x="299.54" y="550.87" width="31.86" height="13.46" fill="#21918c"/>
<rect x="235.81" y="563.63" width="32.56" height="13.46" fill="#463480"/>
<rect x="267.67" y="563.63" width="32.56" height="13.46" fill="#481a6c"/>
<rect x="299.54" y="563.63" width="31.86" height="13.46" fill="#443a83"/>
<rect x="172.09" y="576.39" width="31.86" height="13.46" fill="#481a6c"/>
<rect x="235.81" y="576.39" width="32.56" height="13.46" fill="#440154"/>
<rect x="267.67" y="576.39" width="32.56" height="13.46" fill="#38588c"/>
<rect x="299.54" y="576.39" width="31.86" height="13.46" fill="#472e7c"/>
<rect x="172.09" y="589.14" width="32.56" height="13.46" fill="#440154"/>
<rect x="203.95" y="589.14" width="32.56" height="13.46" fill="#440154"/>
<rect x="235.81" y="589.14" width="32.56" height="13.46" fill="#443a83"/>
<rect x="267.67" y="589.14" width="32.56" height="13.46" fill="#3e4989"/>
<rect x="299.54" y="589.14" width="31.86" height="13.46" fill="#463480"/>
<rect x="172.09" y="601.90" width="32.56" height="13.46" fill="#440154"/>
<rect x="203.95" y="601.90" width="32.56" height="13.46" fill="#3e4989"/>
<rect x="235.81" y="601.90" width="32.56" height="13.46" fill="#481a6c"/>
<rect x="267.67" y="601.90" width="32.56" height="13.46" fill="#3e4989"/>
<rect x="299.54" y="601.90" width="31.86" height="13.46" fill="#3e4989"/>
<rect x="172.09" y="614.66" width="32.56" height="13.46" fill="#443a83"/>
<rect x="203.95" y="614.66" width="32.56" height="13.46" fill="#463480"/>
<rect x="235.81" y="614.66" width="32.56" height="13.46" fill="#3e4989"/>
<rect x="267.67" y="614.66" width="32.56" height="13.46" fill="#463480"/>
<rect x="299.54" y="614.66" width="31.86" height="13.46" fill="#414487"/>
<rect x="108.36" y="627.41" width="32.56" height="12.76" fill="#440154"/>
<rect x="140.22" y="627.41" width="32.56" height="13.46" fill="#481a6c"/>
<rect x="172.09" y="627.41" width="32.56" height="13.46" fill="#481a6c"/>
<rect x="203.95" y="627.41" width="32.56" height="13.46" fill="#472e7c"/>
<rect x="235.81" y="627.41" width="32.56" height="13.46" fill="#443a83"/>
<rect x="267.67" y="627.41" width="32.56" height="13.46" fill="#355f8d"/>
<rect x="299.54" y="627.41" width="31.86" height="13.46" fill="#355f8d"/>
<rect x="140.22" y="640.17" width="32.56" height="13.46" fill="#433e85"/>
<rect x="172.09" y="640.17" width="32.56" height="13.46" fill="#463480"/>
<rect x="203.95" y="640.17" width="32.56" height="13.46" fill="#472e7c"/>
<rect x="235.81" y="640.17" width="32.56" height="13.46" fill="#355f8d"/>
<rect x="267.67" y="640.17" width="32.56" height="13.46" fill="#355f8d"/>
<rect x="299.54" y="640.17" width="31.86" height="13.46" fill="#355f8d"/>
<rect x="76.50" y="652.93" width="32.56" height="13.46" fill="#481a6c"/>
<rect x="108.36" y="652.93" width="32.56" height="13.46" fill="#46307e"/>
<rect x="140.22" y="652.93" width="32.56" height="13.46" fill="#463480"/>
<rect x="172.09" y="652.93" width="32.56" height="13.46" fill="#3b528b"/>
<rect x="203.95" y="652.93" width="32.56" height="13.46" fill="#38588c"/>
<rect x="235.81" y="652.93" width="32.56" height="13.46" fill="#2a788e"/>
<rect x="267.67" y="652.93" width="32.56" height="13.46" fill="#2a788e"/>
<rect x="299.54" y="652.93" width="31.86" height="13.46" fill="#287d8e"/>
<rect x="76.50" y="665.69" width="32.56" height="13.46" fill="#32648e"/>
<rect x="108.36" y="665.69" width="32.56" height="13.46" fill="#2f6c8e"/>
<rect x="140.22" y="665.69" width="32.56" height="13.46" fill="#2d718e"/>
<rect x="172.09" y="665.69" width="32.56" height="13.46" fill="#2a788e"/>
<rect x="203.95" y="665.69" width="32.56" height="13.46" fill="#25848e"/>
<rect x="235.81" y="665.69" width="32.56" height="13.46" fill="#23898e"/>
<rect x="267.67" y="665.69" width="32.56" height="13.46" fill="#1f9f88"/>
<rect x="299.54" y="665.69" width="31.86" height="13.46" fill="#1f9f88"/>
<rect x="76.50" y="678.44" width="32.56" height="12.76" fill="#21918c"/>
<rect x="108.36" y="678.44" width="32.56" height="12.76" fill="#20928c"/>
<rect x="140.22" y="678.44" width="32.56" height="12.76" fill="#22a884"/>
<rect x="172.09" y="678.44" width="32.56" height="12.76" fill="#25ab82"/>
<rect x="203.95" y="678.44" width="32.56" height="12.76" fill="#2fb47c"/>
<rect x="235.81" y="678.44" width="32.56" height="12.76" fill="#3bbb75"/>
<rect x="267.67" y="678.44" width="32.56" height="12.76" fill="#58c765"/>
<rect x="299.54" y="678.44" width="31.86" height="12.76" fill="#63cb5f"/>
<path d="M315.47 448.81V461.57M299.54 455.19H331.40" stroke="rgba(255,255,255,0.62)" stroke-width="1.05" fill="none"/>
<path d="M315.47 499.84V512.60M299.54 506.22H331.40" stroke="rgba(255,255,255,0.62)" stroke-width="1.05" fill="none"/>
<path d="M283.61 512.60V525.36M267.67 518.98H299.54" stroke="rgba(255,255,255,0.62)" stroke-width="1.05" fill="none"/>
<path d="M315.47 512.60V525.36M299.54 518.98H331.40" stroke="rgba(255,255,255,0.62)" stroke-width="1.05" fill="none"/>
<path d="M283.61 525.36V538.11M267.67 531.74H299.54" stroke="rgba(255,255,255,0.62)" stroke-width="1.05" fill="none"/>
<path d="M315.47 525.36V538.11M299.54 531.74H331.40" stroke="rgba(255,255,255,0.62)" stroke-width="1.05" fill="none"/>
<path d="M251.74 538.11V550.87M235.81 544.49H267.68" stroke="rgba(255,255,255,0.62)" stroke-width="1.05" fill="none"/>
<path d="M283.61 538.11V550.87M267.67 544.49H299.54" stroke="rgba(255,255,255,0.62)" stroke-width="1.05" fill="none"/>
<path d="M315.47 538.11V550.87M299.54 544.49H331.40" stroke="rgba(255,255,255,0.62)" stroke-width="1.05" fill="none"/>
<path d="M219.88 550.87V563.63M203.95 557.25H235.81" stroke="rgba(255,255,255,0.62)" stroke-width="1.05" fill="none"/>
<path d="M251.74 550.87V563.63M235.81 557.25H267.68" stroke="rgba(255,255,255,0.62)" stroke-width="1.05" fill="none"/>
<path d="M283.61 550.87V563.63M267.67 557.25H299.54" stroke="rgba(255,255,255,0.62)" stroke-width="1.05" fill="none"/>
<path d="M315.47 550.87V563.63M299.54 557.25H331.40" stroke="rgba(255,255,255,0.62)" stroke-width="1.05" fill="none"/>
<path d="M251.74 563.63V576.39M235.81 570.01H267.68" stroke="rgba(255,255,255,0.62)" stroke-width="1.05" fill="none"/>
<path d="M283.61 563.63V576.39M267.67 570.01H299.54" stroke="rgba(255,255,255,0.62)" stroke-width="1.05" fill="none"/>
<path d="M315.47 563.63V576.39M299.54 570.01H331.40" stroke="rgba(255,255,255,0.62)" stroke-width="1.05" fill="none"/>
<path d="M188.02 576.39V589.14M172.09 582.76H203.95" stroke="rgba(255,255,255,0.62)" stroke-width="1.05" fill="none"/>
<path d="M251.74 576.39V589.14M235.81 582.76H267.68" stroke="rgba(255,255,255,0.62)" stroke-width="1.05" fill="none"/>
<path d="M283.61 576.39V589.14M267.67 582.76H299.54" stroke="rgba(255,255,255,0.62)" stroke-width="1.05" fill="none"/>
<path d="M315.47 576.39V589.14M299.54 582.76H331.40" stroke="rgba(255,255,255,0.62)" stroke-width="1.05" fill="none"/>
<path d="M188.02 589.14V601.90M172.09 595.52H203.95" stroke="rgba(255,255,255,0.62)" stroke-width="1.05" fill="none"/>
<path d="M219.88 589.14V601.90M203.95 595.52H235.81" stroke="rgba(255,255,255,0.62)" stroke-width="1.05" fill="none"/>
<path d="M251.74 589.14V601.90M235.81 595.52H267.68" stroke="rgba(255,255,255,0.62)" stroke-width="1.05" fill="none"/>
<path d="M283.61 589.14V601.90M267.67 595.52H299.54" stroke="rgba(255,255,255,0.62)" stroke-width="1.05" fill="none"/>
<path d="M315.47 589.14V601.90M299.54 595.52H331.40" stroke="rgba(255,255,255,0.62)" stroke-width="1.05" fill="none"/>
<path d="M188.02 601.90V614.66M172.09 608.28H203.95" stroke="rgba(255,255,255,0.62)" stroke-width="1.05" fill="none"/>
<path d="M219.88 601.90V614.66M203.95 608.28H235.81" stroke="rgba(255,255,255,0.62)" stroke-width="1.05" fill="none"/>
<path d="M251.74 601.90V614.66M235.81 608.28H267.68" stroke="rgba(255,255,255,0.62)" stroke-width="1.05" fill="none"/>
<path d="M283.61 601.90V614.66M267.67 608.28H299.54" stroke="rgba(255,255,255,0.62)" stroke-width="1.05" fill="none"/>
<path d="M315.47 601.90V614.66M299.54 608.28H331.40" stroke="rgba(255,255,255,0.62)" stroke-width="1.05" fill="none"/>
<path d="M188.02 614.66V627.41M172.09 621.04H203.95" stroke="rgba(255,255,255,0.62)" stroke-width="1.05" fill="none"/>
<path d="M219.88 614.66V627.41M203.95 621.04H235.81" stroke="rgba(255,255,255,0.62)" stroke-width="1.05" fill="none"/>
<path d="M251.74 614.66V627.41M235.81 621.04H267.68" stroke="rgba(255,255,255,0.62)" stroke-width="1.05" fill="none"/>
<path d="M283.61 614.66V627.41M267.67 621.04H299.54" stroke="rgba(255,255,255,0.62)" stroke-width="1.05" fill="none"/>
<path d="M315.47 614.66V627.41M299.54 621.04H331.40" stroke="rgba(255,255,255,0.62)" stroke-width="1.05" fill="none"/>
<path d="M124.29 627.41V640.17M108.36 633.79H140.22" stroke="rgba(255,255,255,0.62)" stroke-width="1.05" fill="none"/>
<path d="M156.16 627.41V640.17M140.22 633.79H172.09" stroke="rgba(255,255,255,0.62)" stroke-width="1.05" fill="none"/>
<path d="M188.02 627.41V640.17M172.09 633.79H203.95" stroke="rgba(255,255,255,0.62)" stroke-width="1.05" fill="none"/>
<path d="M219.88 627.41V640.17M203.95 633.79H235.81" stroke="rgba(255,255,255,0.62)" stroke-width="1.05" fill="none"/>
<path d="M251.74 627.41V640.17M235.81 633.79H267.68" stroke="rgba(255,255,255,0.62)" stroke-width="1.05" fill="none"/>
<path d="M283.61 627.41V640.17M267.67 633.79H299.54" stroke="rgba(255,255,255,0.62)" stroke-width="1.05" fill="none"/>
<path d="M315.47 627.41V640.17M299.54 633.79H331.40" stroke="rgba(255,255,255,0.62)" stroke-width="1.05" fill="none"/>
<path d="M156.16 640.17V652.93M140.22 646.55H172.09" stroke="rgba(255,255,255,0.62)" stroke-width="1.05" fill="none"/>
<path d="M188.02 640.17V652.93M172.09 646.55H203.95" stroke="rgba(255,255,255,0.62)" stroke-width="1.05" fill="none"/>
<path d="M219.88 640.17V652.93M203.95 646.55H235.81" stroke="rgba(255,255,255,0.62)" stroke-width="1.05" fill="none"/>
<path d="M251.74 640.17V652.93M235.81 646.55H267.68" stroke="rgba(255,255,255,0.62)" stroke-width="1.05" fill="none"/>
<path d="M283.61 640.17V652.93M267.67 646.55H299.54" stroke="rgba(255,255,255,0.62)" stroke-width="1.05" fill="none"/>
<path d="M315.47 640.17V652.93M299.54 646.55H331.40" stroke="rgba(255,255,255,0.62)" stroke-width="1.05" fill="none"/>
<path d="M92.43 652.93V665.69M76.50 659.31H108.36" stroke="rgba(255,255,255,0.62)" stroke-width="1.05" fill="none"/>
<path d="M124.29 652.93V665.69M108.36 659.31H140.22" stroke="rgba(255,255,255,0.62)" stroke-width="1.05" fill="none"/>
<path d="M156.16 652.93V665.69M140.22 659.31H172.09" stroke="rgba(255,255,255,0.62)" stroke-width="1.05" fill="none"/>
<path d="M188.02 652.93V665.69M172.09 659.31H203.95" stroke="rgba(255,255,255,0.62)" stroke-width="1.05" fill="none"/>
<path d="M219.88 652.93V665.69M203.95 659.31H235.81" stroke="rgba(255,255,255,0.62)" stroke-width="1.05" fill="none"/>
<path d="M251.74 652.93V665.69M235.81 659.31H267.68" stroke="rgba(255,255,255,0.62)" stroke-width="1.05" fill="none"/>
<path d="M283.61 652.93V665.69M267.67 659.31H299.54" stroke="rgba(255,255,255,0.62)" stroke-width="1.05" fill="none"/>
<path d="M315.47 652.93V665.69M299.54 659.31H331.40" stroke="rgba(255,255,255,0.62)" stroke-width="1.05" fill="none"/>
<path d="M92.43 665.69V678.44M76.50 672.06H108.36" stroke="rgba(255,255,255,0.62)" stroke-width="1.05" fill="none"/>
<path d="M124.29 665.69V678.44M108.36 672.06H140.22" stroke="rgba(255,255,255,0.62)" stroke-width="1.05" fill="none"/>
<path d="M156.16 665.69V678.44M140.22 672.06H172.09" stroke="rgba(255,255,255,0.62)" stroke-width="1.05" fill="none"/>
<path d="M188.02 665.69V678.44M172.09 672.06H203.95" stroke="rgba(255,255,255,0.62)" stroke-width="1.05" fill="none"/>
<path d="M219.88 665.69V678.44M203.95 672.06H235.81" stroke="rgba(255,255,255,0.62)" stroke-width="1.05" fill="none"/>
<path d="M251.74 665.69V678.44M235.81 672.06H267.68" stroke="rgba(255,255,255,0.62)" stroke-width="1.05" fill="none"/>
<path d="M283.61 665.69V678.44M267.67 672.06H299.54" stroke="rgba(255,255,255,0.62)" stroke-width="1.05" fill="none"/>
<path d="M315.47 665.69V678.44M299.54 672.06H331.40" stroke="rgba(255,255,255,0.62)" stroke-width="1.05" fill="none"/>
<path d="M92.43 678.44V691.20M76.50 684.82H108.36" stroke="rgba(255,255,255,0.62)" stroke-width="1.05" fill="none"/>
<path d="M124.29 678.44V691.20M108.36 684.82H140.22" stroke="rgba(255,255,255,0.62)" stroke-width="1.05" fill="none"/>
<path d="M156.16 678.44V691.20M140.22 684.82H172.09" stroke="rgba(255,255,255,0.62)" stroke-width="1.05" fill="none"/>
<path d="M188.02 678.44V691.20M172.09 684.82H203.95" stroke="rgba(255,255,255,0.62)" stroke-width="1.05" fill="none"/>
<path d="M219.88 678.44V691.20M203.95 684.82H235.81" stroke="rgba(255,255,255,0.62)" stroke-width="1.05" fill="none"/>
<path d="M251.74 678.44V691.20M235.81 684.82H267.68" stroke="rgba(255,255,255,0.62)" stroke-width="1.05" fill="none"/>
<path d="M283.61 678.44V691.20M267.67 684.82H299.54" stroke="rgba(255,255,255,0.62)" stroke-width="1.05" fill="none"/>
<path d="M315.47 678.44V691.20M299.54 684.82H331.40" stroke="rgba(255,255,255,0.62)" stroke-width="1.05" fill="none"/>
<rect x="76.5" y="423.3" width="254.90" height="267.90" fill="none" stroke="#262626" stroke-width="1"/>
<line x1="73.5" y1="429.68" x2="76.5" y2="429.68" stroke="#262626" stroke-width="0.9"/>
<line x1="73.5" y1="442.44" x2="76.5" y2="442.44" stroke="#262626" stroke-width="0.9"/>
<line x1="73.5" y1="455.19" x2="76.5" y2="455.19" stroke="#262626" stroke-width="0.9"/>
<line x1="73.5" y1="467.95" x2="76.5" y2="467.95" stroke="#262626" stroke-width="0.9"/>
<line x1="73.5" y1="480.71" x2="76.5" y2="480.71" stroke="#262626" stroke-width="0.9"/>
<line x1="73.5" y1="493.46" x2="76.5" y2="493.46" stroke="#262626" stroke-width="0.9"/>
<line x1="73.5" y1="506.22" x2="76.5" y2="506.22" stroke="#262626" stroke-width="0.9"/>
<line x1="73.5" y1="518.98" x2="76.5" y2="518.98" stroke="#262626" stroke-width="0.9"/>
<line x1="73.5" y1="531.74" x2="76.5" y2="531.74" stroke="#262626" stroke-width="0.9"/>
<line x1="73.5" y1="544.49" x2="76.5" y2="544.49" stroke="#262626" stroke-width="0.9"/>
<line x1="73.5" y1="557.25" x2="76.5" y2="557.25" stroke="#262626" stroke-width="0.9"/>
<line x1="73.5" y1="570.01" x2="76.5" y2="570.01" stroke="#262626" stroke-width="0.9"/>
<line x1="73.5" y1="582.76" x2="76.5" y2="582.76" stroke="#262626" stroke-width="0.9"/>
<line x1="73.5" y1="595.52" x2="76.5" y2="595.52" stroke="#262626" stroke-width="0.9"/>
<line x1="73.5" y1="608.28" x2="76.5" y2="608.28" stroke="#262626" stroke-width="0.9"/>
<line x1="73.5" y1="621.04" x2="76.5" y2="621.04" stroke="#262626" stroke-width="0.9"/>
<line x1="73.5" y1="633.79" x2="76.5" y2="633.79" stroke="#262626" stroke-width="0.9"/>
<line x1="73.5" y1="646.55" x2="76.5" y2="646.55" stroke="#262626" stroke-width="0.9"/>
<line x1="73.5" y1="659.31" x2="76.5" y2="659.31" stroke="#262626" stroke-width="0.9"/>
<line x1="73.5" y1="672.06" x2="76.5" y2="672.06" stroke="#262626" stroke-width="0.9"/>
<line x1="73.5" y1="684.82" x2="76.5" y2="684.82" stroke="#262626" stroke-width="0.9"/>
<line x1="92.43" y1="691.2" x2="92.43" y2="694.7" stroke="#262626" stroke-width="0.9"/>
<line x1="124.29" y1="691.2" x2="124.29" y2="694.7" stroke="#262626" stroke-width="0.9"/>
<line x1="156.16" y1="691.2" x2="156.16" y2="694.7" stroke="#262626" stroke-width="0.9"/>
<line x1="188.02" y1="691.2" x2="188.02" y2="694.7" stroke="#262626" stroke-width="0.9"/>
<line x1="219.88" y1="691.2" x2="219.88" y2="694.7" stroke="#262626" stroke-width="0.9"/>
<line x1="251.74" y1="691.2" x2="251.74" y2="694.7" stroke="#262626" stroke-width="0.9"/>
<line x1="283.61" y1="691.2" x2="283.61" y2="694.7" stroke="#262626" stroke-width="0.9"/>
<line x1="315.47" y1="691.2" x2="315.47" y2="694.7" stroke="#262626" stroke-width="0.9"/>
<text x="70.90" y="435.08" text-anchor="end" font-family="Liberation Serif" font-size="16" fill="#1a1a1a" stroke="#fff" stroke-width="0.2" textLength="50.89" lengthAdjust="spacingAndGlyphs">611-670</text>
<text x="70.90" y="447.84" text-anchor="end" font-family="Liberation Serif" font-size="16" fill="#1a1a1a" stroke="#fff" stroke-width="0.2" textLength="51.46" lengthAdjust="spacingAndGlyphs">551-610</text>
<text x="70.90" y="460.59" text-anchor="end" font-family="Liberation Serif" font-size="16" fill="#1a1a1a" stroke="#fff" stroke-width="0.2" textLength="51.46" lengthAdjust="spacingAndGlyphs">491-550</text>
<text x="70.90" y="473.35" text-anchor="end" font-family="Liberation Serif" font-size="16" fill="#1a1a1a" stroke="#fff" stroke-width="0.2" textLength="51.46" lengthAdjust="spacingAndGlyphs">431-490</text>
<text x="70.90" y="486.11" text-anchor="end" font-family="Liberation Serif" font-size="16" fill="#1a1a1a" stroke="#fff" stroke-width="0.2" textLength="51.46" lengthAdjust="spacingAndGlyphs">371-430</text>
<text x="70.90" y="498.86" text-anchor="end" font-family="Liberation Serif" font-size="16" fill="#1a1a1a" stroke="#fff" stroke-width="0.2" textLength="50.89" lengthAdjust="spacingAndGlyphs">311-370</text>
<text x="70.90" y="511.62" text-anchor="end" font-family="Liberation Serif" font-size="16" fill="#1a1a1a" stroke="#fff" stroke-width="0.2" textLength="51.46" lengthAdjust="spacingAndGlyphs">251-310</text>
<text x="70.90" y="524.38" text-anchor="end" font-family="Liberation Serif" font-size="16" fill="#1a1a1a" stroke="#fff" stroke-width="0.2" textLength="51.46" lengthAdjust="spacingAndGlyphs">191-250</text>
<text x="70.90" y="537.14" text-anchor="end" font-family="Liberation Serif" font-size="16" fill="#1a1a1a" stroke="#fff" stroke-width="0.2" textLength="51.46" lengthAdjust="spacingAndGlyphs">131-190</text>
<text x="70.90" y="549.89" text-anchor="end" font-family="Liberation Serif" font-size="16" fill="#1a1a1a" stroke="#fff" stroke-width="0.2" textLength="43.74" lengthAdjust="spacingAndGlyphs">71-130</text>
<text x="70.90" y="562.65" text-anchor="end" font-family="Liberation Serif" font-size="16" fill="#1a1a1a" stroke="#fff" stroke-width="0.2" textLength="35.45" lengthAdjust="spacingAndGlyphs">11-70</text>
<text x="70.90" y="575.41" text-anchor="end" font-family="Liberation Serif" font-size="16" fill="#1a1a1a" stroke="#fff" stroke-width="0.2" textLength="15.44" lengthAdjust="spacingAndGlyphs">10</text>
<text x="70.90" y="588.16" text-anchor="end" font-family="Liberation Serif" font-size="16" fill="#1a1a1a" stroke="#fff" stroke-width="0.2" textLength="7.72" lengthAdjust="spacingAndGlyphs">9</text>
<text x="70.90" y="600.92" text-anchor="end" font-family="Liberation Serif" font-size="16" fill="#1a1a1a" stroke="#fff" stroke-width="0.2" textLength="7.72" lengthAdjust="spacingAndGlyphs">8</text>
<text x="70.90" y="613.68" text-anchor="end" font-family="Liberation Serif" font-size="16" fill="#1a1a1a" stroke="#fff" stroke-width="0.2" textLength="7.72" lengthAdjust="spacingAndGlyphs">7</text>
<text x="70.90" y="626.44" text-anchor="end" font-family="Liberation Serif" font-size="16" fill="#1a1a1a" stroke="#fff" stroke-width="0.2" textLength="7.72" lengthAdjust="spacingAndGlyphs">6</text>
<text x="70.90" y="639.19" text-anchor="end" font-family="Liberation Serif" font-size="16" fill="#1a1a1a" stroke="#fff" stroke-width="0.2" textLength="7.72" lengthAdjust="spacingAndGlyphs">5</text>
<text x="70.90" y="651.95" text-anchor="end" font-family="Liberation Serif" font-size="16" fill="#1a1a1a" stroke="#fff" stroke-width="0.2" textLength="7.72" lengthAdjust="spacingAndGlyphs">4</text>
<text x="70.90" y="664.71" text-anchor="end" font-family="Liberation Serif" font-size="16" fill="#1a1a1a" stroke="#fff" stroke-width="0.2" textLength="7.72" lengthAdjust="spacingAndGlyphs">3</text>
<text x="70.90" y="677.46" text-anchor="end" font-family="Liberation Serif" font-size="16" fill="#1a1a1a" stroke="#fff" stroke-width="0.2" textLength="7.72" lengthAdjust="spacingAndGlyphs">2</text>
<text x="70.90" y="690.22" text-anchor="end" font-family="Liberation Serif" font-size="16" fill="#1a1a1a" stroke="#fff" stroke-width="0.2" textLength="7.72" lengthAdjust="spacingAndGlyphs">1</text>
<text x="87.95" y="708.10" font-family="Liberation Serif" font-size="16" fill="#1a1a1a" stroke="#fff" stroke-width="0.2" textLength="7.52" lengthAdjust="spacingAndGlyphs">2</text>
<text x="119.58" y="708.10" font-family="Liberation Serif" font-size="16" fill="#1a1a1a" stroke="#fff" stroke-width="0.2" textLength="7.52" lengthAdjust="spacingAndGlyphs">5</text>
<text x="147.50" y="708.10" font-family="Liberation Serif" font-size="16" fill="#1a1a1a" stroke="#fff" stroke-width="0.2" textLength="15.04" lengthAdjust="spacingAndGlyphs">10</text>
<text x="179.66" y="708.10" font-family="Liberation Serif" font-size="16" fill="#1a1a1a" stroke="#fff" stroke-width="0.2" textLength="15.04" lengthAdjust="spacingAndGlyphs">20</text>
<text x="211.41" y="708.10" font-family="Liberation Serif" font-size="16" fill="#1a1a1a" stroke="#fff" stroke-width="0.2" textLength="15.04" lengthAdjust="spacingAndGlyphs">50</text>
<text x="239.33" y="708.10" font-family="Liberation Serif" font-size="16" fill="#1a1a1a" stroke="#fff" stroke-width="0.2" textLength="22.56" lengthAdjust="spacingAndGlyphs">100</text>
<text x="271.19" y="708.10" font-family="Liberation Serif" font-size="16" fill="#1a1a1a" stroke="#fff" stroke-width="0.2" textLength="22.56" lengthAdjust="spacingAndGlyphs">150</text>
<text x="303.35" y="708.10" font-family="Liberation Serif" font-size="16" fill="#1a1a1a" stroke="#fff" stroke-width="0.2" textLength="22.56" lengthAdjust="spacingAndGlyphs">200</text>
<line x1="364.44" y1="423.3" x2="364.44" y2="691.2" stroke="rgba(150,150,150,0.33)" stroke-width="1.05"/>
<line x1="396.31" y1="423.3" x2="396.31" y2="691.2" stroke="rgba(150,150,150,0.33)" stroke-width="1.05"/>
<line x1="428.19" y1="423.3" x2="428.19" y2="691.2" stroke="rgba(150,150,150,0.33)" stroke-width="1.05"/>
<line x1="460.06" y1="423.3" x2="460.06" y2="691.2" stroke="rgba(150,150,150,0.33)" stroke-width="1.05"/>
<line x1="491.94" y1="423.3" x2="491.94" y2="691.2" stroke="rgba(150,150,150,0.33)" stroke-width="1.05"/>
<line x1="523.81" y1="423.3" x2="523.81" y2="691.2" stroke="rgba(150,150,150,0.33)" stroke-width="1.05"/>
<line x1="555.69" y1="423.3" x2="555.69" y2="691.2" stroke="rgba(150,150,150,0.33)" stroke-width="1.05"/>
<line x1="587.56" y1="423.3" x2="587.56" y2="691.2" stroke="rgba(150,150,150,0.33)" stroke-width="1.05"/>
<line x1="348.5" y1="429.68" x2="603.5" y2="429.68" stroke="rgba(150,150,150,0.33)" stroke-width="1.05"/>
<line x1="348.5" y1="442.44" x2="603.5" y2="442.44" stroke="rgba(150,150,150,0.33)" stroke-width="1.05"/>
<line x1="348.5" y1="455.19" x2="603.5" y2="455.19" stroke="rgba(150,150,150,0.33)" stroke-width="1.05"/>
<line x1="348.5" y1="467.95" x2="603.5" y2="467.95" stroke="rgba(150,150,150,0.33)" stroke-width="1.05"/>
<line x1="348.5" y1="480.71" x2="603.5" y2="480.71" stroke="rgba(150,150,150,0.33)" stroke-width="1.05"/>
<line x1="348.5" y1="493.46" x2="603.5" y2="493.46" stroke="rgba(150,150,150,0.33)" stroke-width="1.05"/>
<line x1="348.5" y1="506.22" x2="603.5" y2="506.22" stroke="rgba(150,150,150,0.33)" stroke-width="1.05"/>
<line x1="348.5" y1="518.98" x2="603.5" y2="518.98" stroke="rgba(150,150,150,0.33)" stroke-width="1.05"/>
<line x1="348.5" y1="531.74" x2="603.5" y2="531.74" stroke="rgba(150,150,150,0.33)" stroke-width="1.05"/>
<line x1="348.5" y1="544.49" x2="603.5" y2="544.49" stroke="rgba(150,150,150,0.33)" stroke-width="1.05"/>
<line x1="348.5" y1="557.25" x2="603.5" y2="557.25" stroke="rgba(150,150,150,0.33)" stroke-width="1.05"/>
<line x1="348.5" y1="570.01" x2="603.5" y2="570.01" stroke="rgba(150,150,150,0.33)" stroke-width="1.05"/>
<line x1="348.5" y1="582.76" x2="603.5" y2="582.76" stroke="rgba(150,150,150,0.33)" stroke-width="1.05"/>
<line x1="348.5" y1="595.52" x2="603.5" y2="595.52" stroke="rgba(150,150,150,0.33)" stroke-width="1.05"/>
<line x1="348.5" y1="608.28" x2="603.5" y2="608.28" stroke="rgba(150,150,150,0.33)" stroke-width="1.05"/>
<line x1="348.5" y1="621.04" x2="603.5" y2="621.04" stroke="rgba(150,150,150,0.33)" stroke-width="1.05"/>
<line x1="348.5" y1="633.79" x2="603.5" y2="633.79" stroke="rgba(150,150,150,0.33)" stroke-width="1.05"/>
<line x1="348.5" y1="646.55" x2="603.5" y2="646.55" stroke="rgba(150,150,150,0.33)" stroke-width="1.05"/>
<line x1="348.5" y1="659.31" x2="603.5" y2="659.31" stroke="rgba(150,150,150,0.33)" stroke-width="1.05"/>
<line x1="348.5" y1="672.06" x2="603.5" y2="672.06" stroke="rgba(150,150,150,0.33)" stroke-width="1.05"/>
<line x1="348.5" y1="684.82" x2="603.5" y2="684.82" stroke="rgba(150,150,150,0.33)" stroke-width="1.05"/>
<rect x="571.62" y="423.30" width="31.88" height="12.76" fill="#460b5e"/>
<rect x="571.62" y="474.33" width="31.88" height="12.76" fill="#460b5e"/>
<rect x="571.62" y="512.60" width="31.88" height="12.76" fill="#46085c"/>
<rect x="539.75" y="538.11" width="32.58" height="13.46" fill="#471365"/>
<rect x="571.62" y="538.11" width="31.88" height="13.46" fill="#481d6f"/>
<rect x="507.88" y="550.87" width="32.58" height="12.76" fill="#433e85"/>
<rect x="539.75" y="550.87" width="32.58" height="12.76" fill="#38588c"/>
<rect x="571.62" y="550.87" width="31.88" height="13.46" fill="#31678e"/>
<rect x="571.62" y="563.63" width="31.88" height="13.46" fill="#482475"/>
<rect x="444.12" y="576.39" width="32.58" height="12.76" fill="#440154"/>
<rect x="476.00" y="576.39" width="31.88" height="12.76" fill="#440154"/>
<rect x="539.75" y="576.39" width="32.58" height="13.46" fill="#482173"/>
<rect x="571.62" y="576.39" width="31.88" height="13.46" fill="#482878"/>
<rect x="539.75" y="589.14" width="32.58" height="13.46" fill="#433e85"/>
<rect x="571.62" y="589.14" width="31.88" height="13.46" fill="#414487"/>
<rect x="539.75" y="601.90" width="32.58" height="13.46" fill="#472e7c"/>
<rect x="571.62" y="601.90" width="31.88" height="13.46" fill="#38588c"/>
<rect x="476.00" y="614.66" width="32.58" height="12.76" fill="#440154"/>
<rect x="507.88" y="614.66" width="32.58" height="13.46" fill="#433e85"/>
<rect x="539.75" y="614.66" width="32.58" height="13.46" fill="#404688"/>
<rect x="571.62" y="614.66" width="31.88" height="13.46" fill="#463480"/>
<rect x="507.88" y="627.41" width="32.58" height="13.46" fill="#482475"/>
<rect x="539.75" y="627.41" width="32.58" height="13.46" fill="#472e7c"/>
<rect x="571.62" y="627.41" width="31.88" height="13.46" fill="#414487"/>
<rect x="348.50" y="640.17" width="31.88" height="13.46" fill="#463480"/>
<rect x="507.88" y="640.17" width="32.58" height="13.46" fill="#355f8d"/>
<rect x="539.75" y="640.17" width="32.58" height="13.46" fill="#2a788e"/>
<rect x="571.62" y="640.17" width="31.88" height="13.46" fill="#2c738e"/>
<rect x="348.50" y="652.93" width="32.58" height="13.46" fill="#481d6f"/>
<rect x="380.38" y="652.93" width="31.88" height="13.46" fill="#481d6f"/>
<rect x="476.00" y="652.93" width="32.58" height="13.46" fill="#463480"/>
<rect x="507.88" y="652.93" width="32.58" height="13.46" fill="#2d718e"/>
<rect x="539.75" y="652.93" width="32.58" height="13.46" fill="#21918c"/>
<rect x="571.62" y="652.93" width="31.88" height="13.46" fill="#228b8d"/>
<rect x="348.50" y="665.69" width="32.58" height="13.46" fill="#433e85"/>
<rect x="380.38" y="665.69" width="32.58" height="13.46" fill="#3a548c"/>
<rect x="412.25" y="665.69" width="32.58" height="13.46" fill="#375a8c"/>
<rect x="444.12" y="665.69" width="32.58" height="13.46" fill="#33628d"/>
<rect x="476.00" y="665.69" width="32.58" height="13.46" fill="#2d718e"/>
<rect x="507.88" y="665.69" width="32.58" height="13.46" fill="#27808e"/>
<rect x="539.75" y="665.69" width="32.58" height="13.46" fill="#20a386"/>
<rect x="571.62" y="665.69" width="31.88" height="13.46" fill="#21a685"/>
<rect x="348.50" y="678.44" width="32.58" height="12.76" fill="#1f978b"/>
<rect x="380.38" y="678.44" width="32.58" height="12.76" fill="#1e9c89"/>
<rect x="412.25" y="678.44" width="32.58" height="12.76" fill="#29af7f"/>
<rect x="444.12" y="678.44" width="32.58" height="12.76" fill="#32b67a"/>
<rect x="476.00" y="678.44" width="32.58" height="12.76" fill="#7ad151"/>
<rect x="507.88" y="678.44" width="32.58" height="12.76" fill="#c2df23"/>
<rect x="539.75" y="678.44" width="32.58" height="12.76" fill="#e5e419"/>
<rect x="571.62" y="678.44" width="31.88" height="12.76" fill="#fde725"/>
<path d="M587.56 423.30V436.06M571.62 429.68H603.50" stroke="rgba(255,255,255,0.62)" stroke-width="1.05" fill="none"/>
<path d="M587.56 474.33V487.09M571.62 480.71H603.50" stroke="rgba(255,255,255,0.62)" stroke-width="1.05" fill="none"/>
<path d="M587.56 512.60V525.36M571.62 518.98H603.50" stroke="rgba(255,255,255,0.62)" stroke-width="1.05" fill="none"/>
<path d="M555.69 538.11V550.87M539.75 544.49H571.62" stroke="rgba(255,255,255,0.62)" stroke-width="1.05" fill="none"/>
<path d="M587.56 538.11V550.87M571.62 544.49H603.50" stroke="rgba(255,255,255,0.62)" stroke-width="1.05" fill="none"/>
<path d="M523.81 550.87V563.63M507.88 557.25H539.75" stroke="rgba(255,255,255,0.62)" stroke-width="1.05" fill="none"/>
<path d="M555.69 550.87V563.63M539.75 557.25H571.62" stroke="rgba(255,255,255,0.62)" stroke-width="1.05" fill="none"/>
<path d="M587.56 550.87V563.63M571.62 557.25H603.50" stroke="rgba(255,255,255,0.62)" stroke-width="1.05" fill="none"/>
<path d="M587.56 563.63V576.39M571.62 570.01H603.50" stroke="rgba(255,255,255,0.62)" stroke-width="1.05" fill="none"/>
<path d="M460.06 576.39V589.14M444.12 582.76H476.00" stroke="rgba(255,255,255,0.62)" stroke-width="1.05" fill="none"/>
<path d="M491.94 576.39V589.14M476.00 582.76H507.88" stroke="rgba(255,255,255,0.62)" stroke-width="1.05" fill="none"/>
<path d="M555.69 576.39V589.14M539.75 582.76H571.62" stroke="rgba(255,255,255,0.62)" stroke-width="1.05" fill="none"/>
<path d="M587.56 576.39V589.14M571.62 582.76H603.50" stroke="rgba(255,255,255,0.62)" stroke-width="1.05" fill="none"/>
<path d="M555.69 589.14V601.90M539.75 595.52H571.62" stroke="rgba(255,255,255,0.62)" stroke-width="1.05" fill="none"/>
<path d="M587.56 589.14V601.90M571.62 595.52H603.50" stroke="rgba(255,255,255,0.62)" stroke-width="1.05" fill="none"/>
<path d="M555.69 601.90V614.66M539.75 608.28H571.62" stroke="rgba(255,255,255,0.62)" stroke-width="1.05" fill="none"/>
<path d="M587.56 601.90V614.66M571.62 608.28H603.50" stroke="rgba(255,255,255,0.62)" stroke-width="1.05" fill="none"/>
<path d="M491.94 614.66V627.41M476.00 621.04H507.88" stroke="rgba(255,255,255,0.62)" stroke-width="1.05" fill="none"/>
<path d="M523.81 614.66V627.41M507.88 621.04H539.75" stroke="rgba(255,255,255,0.62)" stroke-width="1.05" fill="none"/>
<path d="M555.69 614.66V627.41M539.75 621.04H571.62" stroke="rgba(255,255,255,0.62)" stroke-width="1.05" fill="none"/>
<path d="M587.56 614.66V627.41M571.62 621.04H603.50" stroke="rgba(255,255,255,0.62)" stroke-width="1.05" fill="none"/>
<path d="M523.81 627.41V640.17M507.88 633.79H539.75" stroke="rgba(255,255,255,0.62)" stroke-width="1.05" fill="none"/>
<path d="M555.69 627.41V640.17M539.75 633.79H571.62" stroke="rgba(255,255,255,0.62)" stroke-width="1.05" fill="none"/>
<path d="M587.56 627.41V640.17M571.62 633.79H603.50" stroke="rgba(255,255,255,0.62)" stroke-width="1.05" fill="none"/>
<path d="M364.44 640.17V652.93M348.50 646.55H380.38" stroke="rgba(255,255,255,0.62)" stroke-width="1.05" fill="none"/>
<path d="M523.81 640.17V652.93M507.88 646.55H539.75" stroke="rgba(255,255,255,0.62)" stroke-width="1.05" fill="none"/>
<path d="M555.69 640.17V652.93M539.75 646.55H571.62" stroke="rgba(255,255,255,0.62)" stroke-width="1.05" fill="none"/>
<path d="M587.56 640.17V652.93M571.62 646.55H603.50" stroke="rgba(255,255,255,0.62)" stroke-width="1.05" fill="none"/>
<path d="M364.44 652.93V665.69M348.50 659.31H380.38" stroke="rgba(255,255,255,0.62)" stroke-width="1.05" fill="none"/>
<path d="M396.31 652.93V665.69M380.38 659.31H412.25" stroke="rgba(255,255,255,0.62)" stroke-width="1.05" fill="none"/>
<path d="M491.94 652.93V665.69M476.00 659.31H507.88" stroke="rgba(255,255,255,0.62)" stroke-width="1.05" fill="none"/>
<path d="M523.81 652.93V665.69M507.88 659.31H539.75" stroke="rgba(255,255,255,0.62)" stroke-width="1.05" fill="none"/>
<path d="M555.69 652.93V665.69M539.75 659.31H571.62" stroke="rgba(255,255,255,0.62)" stroke-width="1.05" fill="none"/>
<path d="M587.56 652.93V665.69M571.62 659.31H603.50" stroke="rgba(255,255,255,0.62)" stroke-width="1.05" fill="none"/>
<path d="M364.44 665.69V678.44M348.50 672.06H380.38" stroke="rgba(255,255,255,0.62)" stroke-width="1.05" fill="none"/>
<path d="M396.31 665.69V678.44M380.38 672.06H412.25" stroke="rgba(255,255,255,0.62)" stroke-width="1.05" fill="none"/>
<path d="M428.19 665.69V678.44M412.25 672.06H444.12" stroke="rgba(255,255,255,0.62)" stroke-width="1.05" fill="none"/>
<path d="M460.06 665.69V678.44M444.12 672.06H476.00" stroke="rgba(255,255,255,0.62)" stroke-width="1.05" fill="none"/>
<path d="M491.94 665.69V678.44M476.00 672.06H507.88" stroke="rgba(255,255,255,0.62)" stroke-width="1.05" fill="none"/>
<path d="M523.81 665.69V678.44M507.88 672.06H539.75" stroke="rgba(255,255,255,0.62)" stroke-width="1.05" fill="none"/>
<path d="M555.69 665.69V678.44M539.75 672.06H571.62" stroke="rgba(255,255,255,0.62)" stroke-width="1.05" fill="none"/>
<path d="M587.56 665.69V678.44M571.62 672.06H603.50" stroke="rgba(255,255,255,0.62)" stroke-width="1.05" fill="none"/>
<path d="M364.44 678.44V691.20M348.50 684.82H380.38" stroke="rgba(255,255,255,0.62)" stroke-width="1.05" fill="none"/>
<path d="M396.31 678.44V691.20M380.38 684.82H412.25" stroke="rgba(255,255,255,0.62)" stroke-width="1.05" fill="none"/>
<path d="M428.19 678.44V691.20M412.25 684.82H444.12" stroke="rgba(255,255,255,0.62)" stroke-width="1.05" fill="none"/>
<path d="M460.06 678.44V691.20M444.12 684.82H476.00" stroke="rgba(255,255,255,0.62)" stroke-width="1.05" fill="none"/>
<path d="M491.94 678.44V691.20M476.00 684.82H507.88" stroke="rgba(255,255,255,0.62)" stroke-width="1.05" fill="none"/>
<path d="M523.81 678.44V691.20M507.88 684.82H539.75" stroke="rgba(255,255,255,0.62)" stroke-width="1.05" fill="none"/>
<path d="M555.69 678.44V691.20M539.75 684.82H571.62" stroke="rgba(255,255,255,0.62)" stroke-width="1.05" fill="none"/>
<path d="M587.56 678.44V691.20M571.62 684.82H603.50" stroke="rgba(255,255,255,0.62)" stroke-width="1.05" fill="none"/>
<rect x="348.5" y="423.3" width="255.00" height="267.90" fill="none" stroke="#262626" stroke-width="1"/>
<line x1="345.5" y1="429.68" x2="348.5" y2="429.68" stroke="#262626" stroke-width="0.9"/>
<line x1="345.5" y1="442.44" x2="348.5" y2="442.44" stroke="#262626" stroke-width="0.9"/>
<line x1="345.5" y1="455.19" x2="348.5" y2="455.19" stroke="#262626" stroke-width="0.9"/>
<line x1="345.5" y1="467.95" x2="348.5" y2="467.95" stroke="#262626" stroke-width="0.9"/>
<line x1="345.5" y1="480.71" x2="348.5" y2="480.71" stroke="#262626" stroke-width="0.9"/>
<line x1="345.5" y1="493.46" x2="348.5" y2="493.46" stroke="#262626" stroke-width="0.9"/>
<line x1="345.5" y1="506.22" x2="348.5" y2="506.22" stroke="#262626" stroke-width="0.9"/>
<line x1="345.5" y1="518.98" x2="348.5" y2="518.98" stroke="#262626" stroke-width="0.9"/>
<line x1="345.5" y1="531.74" x2="348.5" y2="531.74" stroke="#262626" stroke-width="0.9"/>
<line x1="345.5" y1="544.49" x2="348.5" y2="544.49" stroke="#262626" stroke-width="0.9"/>
<line x1="345.5" y1="557.25" x2="348.5" y2="557.25" stroke="#262626" stroke-width="0.9"/>
<line x1="345.5" y1="570.01" x2="348.5" y2="570.01" stroke="#262626" stroke-width="0.9"/>
<line x1="345.5" y1="582.76" x2="348.5" y2="582.76" stroke="#262626" stroke-width="0.9"/>
<line x1="345.5" y1="595.52" x2="348.5" y2="595.52" stroke="#262626" stroke-width="0.9"/>
<line x1="345.5" y1="608.28" x2="348.5" y2="608.28" stroke="#262626" stroke-width="0.9"/>
<line x1="345.5" y1="621.04" x2="348.5" y2="621.04" stroke="#262626" stroke-width="0.9"/>
<line x1="345.5" y1="633.79" x2="348.5" y2="633.79" stroke="#262626" stroke-width="0.9"/>
<line x1="345.5" y1="646.55" x2="348.5" y2="646.55" stroke="#262626" stroke-width="0.9"/>
<line x1="345.5" y1="659.31" x2="348.5" y2="659.31" stroke="#262626" stroke-width="0.9"/>
<line x1="345.5" y1="672.06" x2="348.5" y2="672.06" stroke="#262626" stroke-width="0.9"/>
<line x1="345.5" y1="684.82" x2="348.5" y2="684.82" stroke="#262626" stroke-width="0.9"/>
<line x1="364.44" y1="691.2" x2="364.44" y2="694.7" stroke="#262626" stroke-width="0.9"/>
<line x1="396.31" y1="691.2" x2="396.31" y2="694.7" stroke="#262626" stroke-width="0.9"/>
<line x1="428.19" y1="691.2" x2="428.19" y2="694.7" stroke="#262626" stroke-width="0.9"/>
<line x1="460.06" y1="691.2" x2="460.06" y2="694.7" stroke="#262626" stroke-width="0.9"/>
<line x1="491.94" y1="691.2" x2="491.94" y2="694.7" stroke="#262626" stroke-width="0.9"/>
<line x1="523.81" y1="691.2" x2="523.81" y2="694.7" stroke="#262626" stroke-width="0.9"/>
<line x1="555.69" y1="691.2" x2="555.69" y2="694.7" stroke="#262626" stroke-width="0.9"/>
<line x1="587.56" y1="691.2" x2="587.56" y2="694.7" stroke="#262626" stroke-width="0.9"/>
<text x="359.95" y="708.10" font-family="Liberation Serif" font-size="16" fill="#1a1a1a" stroke="#fff" stroke-width="0.2" textLength="7.52" lengthAdjust="spacingAndGlyphs">2</text>
<text x="391.60" y="708.10" font-family="Liberation Serif" font-size="16" fill="#1a1a1a" stroke="#fff" stroke-width="0.2" textLength="7.52" lengthAdjust="spacingAndGlyphs">5</text>
<text x="419.53" y="708.10" font-family="Liberation Serif" font-size="16" fill="#1a1a1a" stroke="#fff" stroke-width="0.2" textLength="15.04" lengthAdjust="spacingAndGlyphs">10</text>
<text x="451.70" y="708.10" font-family="Liberation Serif" font-size="16" fill="#1a1a1a" stroke="#fff" stroke-width="0.2" textLength="15.04" lengthAdjust="spacingAndGlyphs">20</text>
<text x="483.47" y="708.10" font-family="Liberation Serif" font-size="16" fill="#1a1a1a" stroke="#fff" stroke-width="0.2" textLength="15.04" lengthAdjust="spacingAndGlyphs">50</text>
<text x="511.39" y="708.10" font-family="Liberation Serif" font-size="16" fill="#1a1a1a" stroke="#fff" stroke-width="0.2" textLength="22.56" lengthAdjust="spacingAndGlyphs">100</text>
<text x="543.27" y="708.10" font-family="Liberation Serif" font-size="16" fill="#1a1a1a" stroke="#fff" stroke-width="0.2" textLength="22.56" lengthAdjust="spacingAndGlyphs">150</text>
<text x="575.44" y="708.10" font-family="Liberation Serif" font-size="16" fill="#1a1a1a" stroke="#fff" stroke-width="0.2" textLength="22.56" lengthAdjust="spacingAndGlyphs">200</text>
<defs><linearGradient id="cbw" x1="0" y1="0" x2="0" y2="1"><stop offset="0.0000" stop-color="#fde725"/><stop offset="0.0312" stop-color="#ece51b"/><stop offset="0.0625" stop-color="#d8e219"/><stop offset="0.0938" stop-color="#c2df23"/><stop offset="0.1250" stop-color="#addc30"/><stop offset="0.1562" stop-color="#98d83e"/><stop offset="0.1875" stop-color="#84d44b"/><stop offset="0.2188" stop-color="#70cf57"/><stop offset="0.2500" stop-color="#5ec962"/><stop offset="0.2812" stop-color="#4ec36b"/><stop offset="0.3125" stop-color="#3fbc73"/><stop offset="0.3438" stop-color="#32b67a"/><stop offset="0.3750" stop-color="#28ae80"/><stop offset="0.4062" stop-color="#22a785"/><stop offset="0.4375" stop-color="#1fa088"/><stop offset="0.4688" stop-color="#1f988b"/><stop offset="0.5000" stop-color="#21918c"/><stop offset="0.5312" stop-color="#23898e"/><stop offset="0.5625" stop-color="#26828e"/><stop offset="0.5938" stop-color="#297a8e"/><stop offset="0.6250" stop-color="#2c728e"/><stop offset="0.6562" stop-color="#2f6b8e"/><stop offset="0.6875" stop-color="#33638d"/><stop offset="0.7188" stop-color="#375b8d"/><stop offset="0.7500" stop-color="#3b528b"/><stop offset="0.7812" stop-color="#3e4989"/><stop offset="0.8125" stop-color="#424086"/><stop offset="0.8438" stop-color="#453781"/><stop offset="0.8750" stop-color="#472d7b"/><stop offset="0.9062" stop-color="#482374"/><stop offset="0.9375" stop-color="#48186a"/><stop offset="0.9688" stop-color="#470d60"/><stop offset="1.0000" stop-color="#440154"/></linearGradient></defs>
<rect x="620.4" y="423.2" width="13.0" height="267.2" fill="url(#cbw)" stroke="#262626" stroke-width="0.9"/>
<line x1="633.4" y1="687.95" x2="635.0" y2="687.95" stroke="#262626" stroke-width="0.8"/>
<line x1="633.4" y1="682.85" x2="635.0" y2="682.85" stroke="#262626" stroke-width="0.8"/>
<line x1="633.4" y1="678.43" x2="635.0" y2="678.43" stroke="#262626" stroke-width="0.8"/>
<line x1="633.4" y1="674.54" x2="635.0" y2="674.54" stroke="#262626" stroke-width="0.8"/>
<line x1="633.4" y1="671.05" x2="636.1999999999999" y2="671.05" stroke="#262626" stroke-width="0.8"/>
<text x="637.4" y="676.35" font-family="Liberation Serif" font-size="15" fill="#1a1a1a" stroke="#fff" stroke-width="0.2">10<tspan dy="-5.9" font-size="11.3">−</tspan><tspan dx="1.3" font-size="11.3">1</tspan></text>
<line x1="633.4" y1="648.12" x2="635.0" y2="648.12" stroke="#262626" stroke-width="0.8"/>
<line x1="633.4" y1="634.71" x2="635.0" y2="634.71" stroke="#262626" stroke-width="0.8"/>
<line x1="633.4" y1="625.19" x2="635.0" y2="625.19" stroke="#262626" stroke-width="0.8"/>
<line x1="633.4" y1="617.81" x2="635.0" y2="617.81" stroke="#262626" stroke-width="0.8"/>
<line x1="633.4" y1="611.78" x2="635.0" y2="611.78" stroke="#262626" stroke-width="0.8"/>
<line x1="633.4" y1="606.68" x2="635.0" y2="606.68" stroke="#262626" stroke-width="0.8"/>
<line x1="633.4" y1="602.27" x2="635.0" y2="602.27" stroke="#262626" stroke-width="0.8"/>
<line x1="633.4" y1="598.37" x2="635.0" y2="598.37" stroke="#262626" stroke-width="0.8"/>
<line x1="633.4" y1="594.88" x2="636.1999999999999" y2="594.88" stroke="#262626" stroke-width="0.8"/>
<text x="637.4" y="600.18" font-family="Liberation Serif" font-size="15" fill="#1a1a1a" stroke="#fff" stroke-width="0.2">10<tspan dy="-5.9" font-size="11.3">0</tspan></text>
<line x1="633.4" y1="571.96" x2="635.0" y2="571.96" stroke="#262626" stroke-width="0.8"/>
<line x1="633.4" y1="558.54" x2="635.0" y2="558.54" stroke="#262626" stroke-width="0.8"/>
<line x1="633.4" y1="549.03" x2="635.0" y2="549.03" stroke="#262626" stroke-width="0.8"/>
<line x1="633.4" y1="541.64" x2="635.0" y2="541.64" stroke="#262626" stroke-width="0.8"/>
<line x1="633.4" y1="535.61" x2="635.0" y2="535.61" stroke="#262626" stroke-width="0.8"/>
<line x1="633.4" y1="530.51" x2="635.0" y2="530.51" stroke="#262626" stroke-width="0.8"/>
<line x1="633.4" y1="526.10" x2="635.0" y2="526.10" stroke="#262626" stroke-width="0.8"/>
<line x1="633.4" y1="522.20" x2="635.0" y2="522.20" stroke="#262626" stroke-width="0.8"/>
<line x1="633.4" y1="518.72" x2="636.1999999999999" y2="518.72" stroke="#262626" stroke-width="0.8"/>
<text x="637.4" y="524.02" font-family="Liberation Serif" font-size="15" fill="#1a1a1a" stroke="#fff" stroke-width="0.2">10<tspan dy="-5.9" font-size="11.3">1</tspan></text>
<line x1="633.4" y1="495.79" x2="635.0" y2="495.79" stroke="#262626" stroke-width="0.8"/>
<line x1="633.4" y1="482.37" x2="635.0" y2="482.37" stroke="#262626" stroke-width="0.8"/>
<line x1="633.4" y1="472.86" x2="635.0" y2="472.86" stroke="#262626" stroke-width="0.8"/>
<line x1="633.4" y1="465.48" x2="635.0" y2="465.48" stroke="#262626" stroke-width="0.8"/>
<line x1="633.4" y1="459.44" x2="635.0" y2="459.44" stroke="#262626" stroke-width="0.8"/>
<line x1="633.4" y1="454.35" x2="635.0" y2="454.35" stroke="#262626" stroke-width="0.8"/>
<line x1="633.4" y1="449.93" x2="635.0" y2="449.93" stroke="#262626" stroke-width="0.8"/>
<line x1="633.4" y1="446.03" x2="635.0" y2="446.03" stroke="#262626" stroke-width="0.8"/>
<line x1="633.4" y1="442.55" x2="636.1999999999999" y2="442.55" stroke="#262626" stroke-width="0.8"/>
<text x="637.4" y="447.85" font-family="Liberation Serif" font-size="15" fill="#1a1a1a" stroke="#fff" stroke-width="0.2">10<tspan dy="-5.9" font-size="11.3">2</tspan></text>
<text x="148.52" y="14.30" font-family="Liberation Serif" font-size="18" fill="#1a1a1a" stroke="#fff" stroke-width="0.2" textLength="87.54" lengthAdjust="spacingAndGlyphs">Interstitials</text>
<text x="435.11" y="14.10" font-family="Liberation Serif" font-size="18" fill="#1a1a1a" stroke="#fff" stroke-width="0.2" textLength="74.09" lengthAdjust="spacingAndGlyphs">Vacancies</text>
<text x="159.32" y="417.50" font-family="Liberation Serif" font-size="18" fill="#1a1a1a" stroke="#fff" stroke-width="0.2" textLength="87.64" lengthAdjust="spacingAndGlyphs">Interstitials</text>
<text x="439.41" y="417.60" font-family="Liberation Serif" font-size="18" fill="#1a1a1a" stroke="#fff" stroke-width="0.2" textLength="73.99" lengthAdjust="spacingAndGlyphs">Vacancies</text>
<text x="141.24" y="324.90" font-family="Liberation Serif" font-size="18" fill="#1a1a1a" stroke="#fff" stroke-width="0.2" textLength="101.13" lengthAdjust="spacingAndGlyphs">Energy (keV)</text>
<text x="420.24" y="324.90" font-family="Liberation Serif" font-size="18" fill="#1a1a1a" stroke="#fff" stroke-width="0.2" textLength="101.54" lengthAdjust="spacingAndGlyphs">Energy (keV)</text>
<text x="152.04" y="728.60" font-family="Liberation Serif" font-size="18" fill="#1a1a1a" stroke="#fff" stroke-width="0.2" textLength="101.74" lengthAdjust="spacingAndGlyphs">Energy (keV)</text>
<text x="424.04" y="728.60" font-family="Liberation Serif" font-size="18" fill="#1a1a1a" stroke="#fff" stroke-width="0.2" textLength="102.45" lengthAdjust="spacingAndGlyphs">Energy (keV)</text>
<text x="319.48" y="370.80" font-family="Liberation Serif" font-size="18" fill="#1a1a1a" stroke="#fff" stroke-width="0.2" textLength="22.74" lengthAdjust="spacingAndGlyphs">(a)</text>
<text x="348.64" y="370.80" font-family="Liberation Serif" font-size="18" fill="#1a1a1a" stroke="#fff" stroke-width="0.2" textLength="23.16" lengthAdjust="spacingAndGlyphs">Fe.</text>
<text x="318.70" y="774.40" font-family="Liberation Serif" font-size="18" fill="#1a1a1a" stroke="#fff" stroke-width="0.2" textLength="23.43" lengthAdjust="spacingAndGlyphs">(b)</text>
<text x="348.70" y="774.40" font-family="Liberation Serif" font-size="18" fill="#1a1a1a" stroke="#fff" stroke-width="0.2" textLength="23.74" lengthAdjust="spacingAndGlyphs">W.</text>
<text x="-199.47" y="15.00" transform="rotate(-90)" font-family="Liberation Serif" font-size="18" fill="#1a1a1a" stroke="#fff" stroke-width="0.2" textLength="90.92" lengthAdjust="spacingAndGlyphs">Cluster size</text>
<text x="-600.75" y="15.00" transform="rotate(-90)" font-family="Liberation Serif" font-size="18" fill="#1a1a1a" stroke="#fff" stroke-width="0.2" textLength="87.57" lengthAdjust="spacingAndGlyphs">Cluster size</text>
<text x="-248.07" y="684.20" transform="rotate(-90)" font-family="Liberation Serif" font-size="18" fill="#1a1a1a" stroke="#fff" stroke-width="0.2" textLength="189.62" lengthAdjust="spacingAndGlyphs">Mean number of clusters</text>
<text x="-653.07" y="684.20" transform="rotate(-90)" font-family="Liberation Serif" font-size="18" fill="#1a1a1a" stroke="#fff" stroke-width="0.2" textLength="191.03" lengthAdjust="spacingAndGlyphs">Mean number of clusters</text>
</svg>
</body></html>
